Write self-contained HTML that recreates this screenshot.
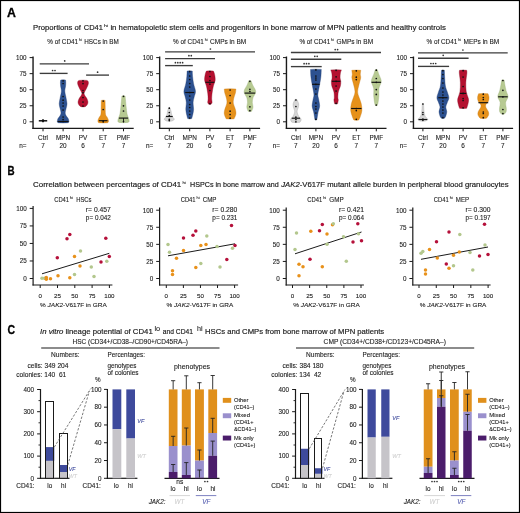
<!DOCTYPE html>
<html><head><meta charset="utf-8"><style>
html,body{margin:0;padding:0;background:#fff;width:520px;height:513px;overflow:hidden}
svg{display:block;will-change:transform}
text{font-family:"Liberation Sans", sans-serif}
</style></head><body>
<svg width="520" height="513" viewBox="0 0 520 513">
<rect x="0.5" y="0.5" width="519" height="512" fill="none" stroke="#000" stroke-width="1.2"/>
<text x="7.10" y="17.00" font-size="12.0" fill="#000" stroke="#000" stroke-width="0.3" font-weight="bold" textLength="8.90" lengthAdjust="spacingAndGlyphs">A</text>
<text x="33.00" y="29.70" font-size="8.0" fill="#1a1a1a" stroke="#1a1a1a" stroke-width="0.18" textLength="48.00" lengthAdjust="spacingAndGlyphs">Proportions of</text>
<text x="83.80" y="29.70" font-size="8.0" fill="#1a1a1a" stroke="#1a1a1a" stroke-width="0.18" textLength="19.10" lengthAdjust="spacingAndGlyphs">CD41</text>
<text x="104.00" y="26.60" font-size="4.4" fill="#1a1a1a" stroke="#1a1a1a" stroke-width="0.1" textLength="4.00" lengthAdjust="spacingAndGlyphs">hi</text>
<text x="110.40" y="29.70" font-size="8.0" fill="#1a1a1a" stroke="#1a1a1a" stroke-width="0.18" textLength="335.40" lengthAdjust="spacingAndGlyphs">in hematopoietic stem cells and progenitors in bone marrow of MPN patients and healthy controls</text>
<line x1="33.05" y1="56.50" x2="33.05" y2="129.00" stroke="#1a1a1a" stroke-width="1.4"/>
<line x1="32.40" y1="128.30" x2="133.70" y2="128.30" stroke="#1a1a1a" stroke-width="1.2"/>
<line x1="29.60" y1="57.60" x2="33.00" y2="57.60" stroke="#1a1a1a" stroke-width="1.0"/>
<text x="26.60" y="59.90" font-size="6.3" fill="#1a1a1a" stroke="#1a1a1a" stroke-width="0.1" text-anchor="end">100</text>
<line x1="29.60" y1="73.65" x2="33.00" y2="73.65" stroke="#1a1a1a" stroke-width="1.0"/>
<text x="26.60" y="75.95" font-size="6.3" fill="#1a1a1a" stroke="#1a1a1a" stroke-width="0.1" text-anchor="end">75</text>
<line x1="29.60" y1="89.70" x2="33.00" y2="89.70" stroke="#1a1a1a" stroke-width="1.0"/>
<text x="26.60" y="92.00" font-size="6.3" fill="#1a1a1a" stroke="#1a1a1a" stroke-width="0.1" text-anchor="end">50</text>
<line x1="29.60" y1="105.75" x2="33.00" y2="105.75" stroke="#1a1a1a" stroke-width="1.0"/>
<text x="26.60" y="108.05" font-size="6.3" fill="#1a1a1a" stroke="#1a1a1a" stroke-width="0.1" text-anchor="end">25</text>
<line x1="29.60" y1="121.80" x2="33.00" y2="121.80" stroke="#1a1a1a" stroke-width="1.0"/>
<text x="26.60" y="124.10" font-size="6.3" fill="#1a1a1a" stroke="#1a1a1a" stroke-width="0.1" text-anchor="end">0</text>
<line x1="43.00" y1="128.30" x2="43.00" y2="131.30" stroke="#1a1a1a" stroke-width="1.0"/>
<text x="43.00" y="140.20" font-size="6.4" fill="#1a1a1a" stroke="#1a1a1a" stroke-width="0.1" text-anchor="middle">Ctrl</text>
<text x="43.00" y="148.00" font-size="6.4" fill="#1a1a1a" stroke="#1a1a1a" stroke-width="0.1" text-anchor="middle">7</text>
<line x1="63.10" y1="128.30" x2="63.10" y2="131.30" stroke="#1a1a1a" stroke-width="1.0"/>
<text x="63.10" y="140.20" font-size="6.4" fill="#1a1a1a" stroke="#1a1a1a" stroke-width="0.1" text-anchor="middle">MPN</text>
<text x="63.10" y="148.00" font-size="6.4" fill="#1a1a1a" stroke="#1a1a1a" stroke-width="0.1" text-anchor="middle">20</text>
<line x1="83.00" y1="128.30" x2="83.00" y2="131.30" stroke="#1a1a1a" stroke-width="1.0"/>
<text x="83.00" y="140.20" font-size="6.4" fill="#1a1a1a" stroke="#1a1a1a" stroke-width="0.1" text-anchor="middle">PV</text>
<text x="83.00" y="148.00" font-size="6.4" fill="#1a1a1a" stroke="#1a1a1a" stroke-width="0.1" text-anchor="middle">6</text>
<line x1="103.20" y1="128.30" x2="103.20" y2="131.30" stroke="#1a1a1a" stroke-width="1.0"/>
<text x="103.20" y="140.20" font-size="6.4" fill="#1a1a1a" stroke="#1a1a1a" stroke-width="0.1" text-anchor="middle">ET</text>
<text x="103.20" y="148.00" font-size="6.4" fill="#1a1a1a" stroke="#1a1a1a" stroke-width="0.1" text-anchor="middle">7</text>
<line x1="123.50" y1="128.30" x2="123.50" y2="131.30" stroke="#1a1a1a" stroke-width="1.0"/>
<text x="123.50" y="140.20" font-size="6.4" fill="#1a1a1a" stroke="#1a1a1a" stroke-width="0.1" text-anchor="middle">PMF</text>
<text x="123.50" y="148.00" font-size="6.4" fill="#1a1a1a" stroke="#1a1a1a" stroke-width="0.1" text-anchor="middle">7</text>
<text x="19.30" y="148.00" font-size="6.4" fill="#1a1a1a" stroke="#1a1a1a" stroke-width="0.1">n=</text>
<text x="47.30" y="43.80" font-size="6.6" fill="#1a1a1a" stroke="#1a1a1a" stroke-width="0.1" textLength="30.80" lengthAdjust="spacingAndGlyphs">% of CD41</text>
<text x="79.00" y="41.20" font-size="3.6" fill="#1a1a1a" stroke="#1a1a1a" stroke-width="0.1">hi</text>
<text x="84.30" y="43.80" font-size="6.6" fill="#1a1a1a" stroke="#1a1a1a" stroke-width="0.1" textLength="34.50" lengthAdjust="spacingAndGlyphs">HSCs in BM</text>
<line x1="159.65" y1="56.50" x2="159.65" y2="129.00" stroke="#1a1a1a" stroke-width="1.4"/>
<line x1="159.00" y1="128.30" x2="260.10" y2="128.30" stroke="#1a1a1a" stroke-width="1.2"/>
<line x1="156.20" y1="57.60" x2="159.60" y2="57.60" stroke="#1a1a1a" stroke-width="1.0"/>
<text x="153.20" y="59.90" font-size="6.3" fill="#1a1a1a" stroke="#1a1a1a" stroke-width="0.1" text-anchor="end">100</text>
<line x1="156.20" y1="73.65" x2="159.60" y2="73.65" stroke="#1a1a1a" stroke-width="1.0"/>
<text x="153.20" y="75.95" font-size="6.3" fill="#1a1a1a" stroke="#1a1a1a" stroke-width="0.1" text-anchor="end">75</text>
<line x1="156.20" y1="89.70" x2="159.60" y2="89.70" stroke="#1a1a1a" stroke-width="1.0"/>
<text x="153.20" y="92.00" font-size="6.3" fill="#1a1a1a" stroke="#1a1a1a" stroke-width="0.1" text-anchor="end">50</text>
<line x1="156.20" y1="105.75" x2="159.60" y2="105.75" stroke="#1a1a1a" stroke-width="1.0"/>
<text x="153.20" y="108.05" font-size="6.3" fill="#1a1a1a" stroke="#1a1a1a" stroke-width="0.1" text-anchor="end">25</text>
<line x1="156.20" y1="121.80" x2="159.60" y2="121.80" stroke="#1a1a1a" stroke-width="1.0"/>
<text x="153.20" y="124.10" font-size="6.3" fill="#1a1a1a" stroke="#1a1a1a" stroke-width="0.1" text-anchor="end">0</text>
<line x1="169.30" y1="128.30" x2="169.30" y2="131.30" stroke="#1a1a1a" stroke-width="1.0"/>
<text x="169.30" y="140.20" font-size="6.4" fill="#1a1a1a" stroke="#1a1a1a" stroke-width="0.1" text-anchor="middle">Ctrl</text>
<text x="169.30" y="148.00" font-size="6.4" fill="#1a1a1a" stroke="#1a1a1a" stroke-width="0.1" text-anchor="middle">7</text>
<line x1="189.70" y1="128.30" x2="189.70" y2="131.30" stroke="#1a1a1a" stroke-width="1.0"/>
<text x="189.70" y="140.20" font-size="6.4" fill="#1a1a1a" stroke="#1a1a1a" stroke-width="0.1" text-anchor="middle">MPN</text>
<text x="189.70" y="148.00" font-size="6.4" fill="#1a1a1a" stroke="#1a1a1a" stroke-width="0.1" text-anchor="middle">20</text>
<line x1="209.90" y1="128.30" x2="209.90" y2="131.30" stroke="#1a1a1a" stroke-width="1.0"/>
<text x="209.90" y="140.20" font-size="6.4" fill="#1a1a1a" stroke="#1a1a1a" stroke-width="0.1" text-anchor="middle">PV</text>
<text x="209.90" y="148.00" font-size="6.4" fill="#1a1a1a" stroke="#1a1a1a" stroke-width="0.1" text-anchor="middle">6</text>
<line x1="230.10" y1="128.30" x2="230.10" y2="131.30" stroke="#1a1a1a" stroke-width="1.0"/>
<text x="230.10" y="140.20" font-size="6.4" fill="#1a1a1a" stroke="#1a1a1a" stroke-width="0.1" text-anchor="middle">ET</text>
<text x="230.10" y="148.00" font-size="6.4" fill="#1a1a1a" stroke="#1a1a1a" stroke-width="0.1" text-anchor="middle">7</text>
<line x1="249.90" y1="128.30" x2="249.90" y2="131.30" stroke="#1a1a1a" stroke-width="1.0"/>
<text x="249.90" y="140.20" font-size="6.4" fill="#1a1a1a" stroke="#1a1a1a" stroke-width="0.1" text-anchor="middle">PMF</text>
<text x="249.90" y="148.00" font-size="6.4" fill="#1a1a1a" stroke="#1a1a1a" stroke-width="0.1" text-anchor="middle">7</text>
<text x="145.90" y="148.00" font-size="6.4" fill="#1a1a1a" stroke="#1a1a1a" stroke-width="0.1">n=</text>
<text x="173.10" y="43.80" font-size="6.6" fill="#1a1a1a" stroke="#1a1a1a" stroke-width="0.1" textLength="30.80" lengthAdjust="spacingAndGlyphs">% of CD41</text>
<text x="204.80" y="41.20" font-size="3.6" fill="#1a1a1a" stroke="#1a1a1a" stroke-width="0.1">hi</text>
<text x="210.10" y="43.80" font-size="6.6" fill="#1a1a1a" stroke="#1a1a1a" stroke-width="0.1" textLength="36.10" lengthAdjust="spacingAndGlyphs">CMPs in BM</text>
<line x1="286.45" y1="56.50" x2="286.45" y2="129.00" stroke="#1a1a1a" stroke-width="1.4"/>
<line x1="285.80" y1="128.30" x2="386.50" y2="128.30" stroke="#1a1a1a" stroke-width="1.2"/>
<line x1="283.00" y1="57.60" x2="286.40" y2="57.60" stroke="#1a1a1a" stroke-width="1.0"/>
<text x="280.00" y="59.90" font-size="6.3" fill="#1a1a1a" stroke="#1a1a1a" stroke-width="0.1" text-anchor="end">100</text>
<line x1="283.00" y1="73.65" x2="286.40" y2="73.65" stroke="#1a1a1a" stroke-width="1.0"/>
<text x="280.00" y="75.95" font-size="6.3" fill="#1a1a1a" stroke="#1a1a1a" stroke-width="0.1" text-anchor="end">75</text>
<line x1="283.00" y1="89.70" x2="286.40" y2="89.70" stroke="#1a1a1a" stroke-width="1.0"/>
<text x="280.00" y="92.00" font-size="6.3" fill="#1a1a1a" stroke="#1a1a1a" stroke-width="0.1" text-anchor="end">50</text>
<line x1="283.00" y1="105.75" x2="286.40" y2="105.75" stroke="#1a1a1a" stroke-width="1.0"/>
<text x="280.00" y="108.05" font-size="6.3" fill="#1a1a1a" stroke="#1a1a1a" stroke-width="0.1" text-anchor="end">25</text>
<line x1="283.00" y1="121.80" x2="286.40" y2="121.80" stroke="#1a1a1a" stroke-width="1.0"/>
<text x="280.00" y="124.10" font-size="6.3" fill="#1a1a1a" stroke="#1a1a1a" stroke-width="0.1" text-anchor="end">0</text>
<line x1="295.90" y1="128.30" x2="295.90" y2="131.30" stroke="#1a1a1a" stroke-width="1.0"/>
<text x="295.90" y="140.20" font-size="6.4" fill="#1a1a1a" stroke="#1a1a1a" stroke-width="0.1" text-anchor="middle">Ctrl</text>
<text x="295.90" y="148.00" font-size="6.4" fill="#1a1a1a" stroke="#1a1a1a" stroke-width="0.1" text-anchor="middle">7</text>
<line x1="315.90" y1="128.30" x2="315.90" y2="131.30" stroke="#1a1a1a" stroke-width="1.0"/>
<text x="315.90" y="140.20" font-size="6.4" fill="#1a1a1a" stroke="#1a1a1a" stroke-width="0.1" text-anchor="middle">MPN</text>
<text x="315.90" y="148.00" font-size="6.4" fill="#1a1a1a" stroke="#1a1a1a" stroke-width="0.1" text-anchor="middle">20</text>
<line x1="336.10" y1="128.30" x2="336.10" y2="131.30" stroke="#1a1a1a" stroke-width="1.0"/>
<text x="336.10" y="140.20" font-size="6.4" fill="#1a1a1a" stroke="#1a1a1a" stroke-width="0.1" text-anchor="middle">PV</text>
<text x="336.10" y="148.00" font-size="6.4" fill="#1a1a1a" stroke="#1a1a1a" stroke-width="0.1" text-anchor="middle">6</text>
<line x1="356.30" y1="128.30" x2="356.30" y2="131.30" stroke="#1a1a1a" stroke-width="1.0"/>
<text x="356.30" y="140.20" font-size="6.4" fill="#1a1a1a" stroke="#1a1a1a" stroke-width="0.1" text-anchor="middle">ET</text>
<text x="356.30" y="148.00" font-size="6.4" fill="#1a1a1a" stroke="#1a1a1a" stroke-width="0.1" text-anchor="middle">7</text>
<line x1="376.30" y1="128.30" x2="376.30" y2="131.30" stroke="#1a1a1a" stroke-width="1.0"/>
<text x="376.30" y="140.20" font-size="6.4" fill="#1a1a1a" stroke="#1a1a1a" stroke-width="0.1" text-anchor="middle">PMF</text>
<text x="376.30" y="148.00" font-size="6.4" fill="#1a1a1a" stroke="#1a1a1a" stroke-width="0.1" text-anchor="middle">7</text>
<text x="272.70" y="148.00" font-size="6.4" fill="#1a1a1a" stroke="#1a1a1a" stroke-width="0.1">n=</text>
<text x="299.40" y="43.80" font-size="6.6" fill="#1a1a1a" stroke="#1a1a1a" stroke-width="0.1" textLength="30.80" lengthAdjust="spacingAndGlyphs">% of CD41</text>
<text x="331.10" y="41.20" font-size="3.6" fill="#1a1a1a" stroke="#1a1a1a" stroke-width="0.1">hi</text>
<text x="336.40" y="43.80" font-size="6.6" fill="#1a1a1a" stroke="#1a1a1a" stroke-width="0.1" textLength="36.70" lengthAdjust="spacingAndGlyphs">GMPs in BM</text>
<line x1="413.45" y1="56.50" x2="413.45" y2="129.00" stroke="#1a1a1a" stroke-width="1.4"/>
<line x1="412.80" y1="128.30" x2="513.10" y2="128.30" stroke="#1a1a1a" stroke-width="1.2"/>
<line x1="410.00" y1="57.60" x2="413.40" y2="57.60" stroke="#1a1a1a" stroke-width="1.0"/>
<text x="407.00" y="59.90" font-size="6.3" fill="#1a1a1a" stroke="#1a1a1a" stroke-width="0.1" text-anchor="end">100</text>
<line x1="410.00" y1="73.65" x2="413.40" y2="73.65" stroke="#1a1a1a" stroke-width="1.0"/>
<text x="407.00" y="75.95" font-size="6.3" fill="#1a1a1a" stroke="#1a1a1a" stroke-width="0.1" text-anchor="end">75</text>
<line x1="410.00" y1="89.70" x2="413.40" y2="89.70" stroke="#1a1a1a" stroke-width="1.0"/>
<text x="407.00" y="92.00" font-size="6.3" fill="#1a1a1a" stroke="#1a1a1a" stroke-width="0.1" text-anchor="end">50</text>
<line x1="410.00" y1="105.75" x2="413.40" y2="105.75" stroke="#1a1a1a" stroke-width="1.0"/>
<text x="407.00" y="108.05" font-size="6.3" fill="#1a1a1a" stroke="#1a1a1a" stroke-width="0.1" text-anchor="end">25</text>
<line x1="410.00" y1="121.80" x2="413.40" y2="121.80" stroke="#1a1a1a" stroke-width="1.0"/>
<text x="407.00" y="124.10" font-size="6.3" fill="#1a1a1a" stroke="#1a1a1a" stroke-width="0.1" text-anchor="end">0</text>
<line x1="422.90" y1="128.30" x2="422.90" y2="131.30" stroke="#1a1a1a" stroke-width="1.0"/>
<text x="422.90" y="140.20" font-size="6.4" fill="#1a1a1a" stroke="#1a1a1a" stroke-width="0.1" text-anchor="middle">Ctrl</text>
<text x="422.90" y="148.00" font-size="6.4" fill="#1a1a1a" stroke="#1a1a1a" stroke-width="0.1" text-anchor="middle">7</text>
<line x1="442.90" y1="128.30" x2="442.90" y2="131.30" stroke="#1a1a1a" stroke-width="1.0"/>
<text x="442.90" y="140.20" font-size="6.4" fill="#1a1a1a" stroke="#1a1a1a" stroke-width="0.1" text-anchor="middle">MPN</text>
<text x="442.90" y="148.00" font-size="6.4" fill="#1a1a1a" stroke="#1a1a1a" stroke-width="0.1" text-anchor="middle">20</text>
<line x1="463.10" y1="128.30" x2="463.10" y2="131.30" stroke="#1a1a1a" stroke-width="1.0"/>
<text x="463.10" y="140.20" font-size="6.4" fill="#1a1a1a" stroke="#1a1a1a" stroke-width="0.1" text-anchor="middle">PV</text>
<text x="463.10" y="148.00" font-size="6.4" fill="#1a1a1a" stroke="#1a1a1a" stroke-width="0.1" text-anchor="middle">6</text>
<line x1="483.30" y1="128.30" x2="483.30" y2="131.30" stroke="#1a1a1a" stroke-width="1.0"/>
<text x="483.30" y="140.20" font-size="6.4" fill="#1a1a1a" stroke="#1a1a1a" stroke-width="0.1" text-anchor="middle">ET</text>
<text x="483.30" y="148.00" font-size="6.4" fill="#1a1a1a" stroke="#1a1a1a" stroke-width="0.1" text-anchor="middle">7</text>
<line x1="502.90" y1="128.30" x2="502.90" y2="131.30" stroke="#1a1a1a" stroke-width="1.0"/>
<text x="502.90" y="140.20" font-size="6.4" fill="#1a1a1a" stroke="#1a1a1a" stroke-width="0.1" text-anchor="middle">PMF</text>
<text x="502.90" y="148.00" font-size="6.4" fill="#1a1a1a" stroke="#1a1a1a" stroke-width="0.1" text-anchor="middle">7</text>
<text x="399.70" y="148.00" font-size="6.4" fill="#1a1a1a" stroke="#1a1a1a" stroke-width="0.1">n=</text>
<text x="426.50" y="43.80" font-size="6.6" fill="#1a1a1a" stroke="#1a1a1a" stroke-width="0.1" textLength="30.80" lengthAdjust="spacingAndGlyphs">% of CD41</text>
<text x="458.20" y="41.20" font-size="3.6" fill="#1a1a1a" stroke="#1a1a1a" stroke-width="0.1">hi</text>
<text x="463.50" y="43.80" font-size="6.6" fill="#1a1a1a" stroke="#1a1a1a" stroke-width="0.1" textLength="35.80" lengthAdjust="spacingAndGlyphs">MEPs in BM</text>
<line x1="39.70" y1="63.80" x2="89.00" y2="63.80" stroke="#3c3c3c" stroke-width="1.35"/>
<circle cx="64.70" cy="60.90" r="0.85" fill="#333"/>
<line x1="39.70" y1="73.40" x2="67.60" y2="73.40" stroke="#3c3c3c" stroke-width="1.35"/>
<circle cx="52.60" cy="70.50" r="0.85" fill="#333"/>
<circle cx="55.00" cy="70.50" r="0.85" fill="#333"/>
<line x1="86.10" y1="75.10" x2="109.00" y2="75.10" stroke="#3c3c3c" stroke-width="1.35"/>
<circle cx="97.60" cy="72.20" r="0.85" fill="#333"/>
<line x1="165.10" y1="51.90" x2="255.00" y2="51.90" stroke="#3c3c3c" stroke-width="1.35"/>
<circle cx="210.40" cy="49.00" r="0.85" fill="#333"/>
<line x1="165.10" y1="58.60" x2="215.00" y2="58.60" stroke="#3c3c3c" stroke-width="1.35"/>
<circle cx="188.90" cy="55.70" r="0.85" fill="#333"/>
<circle cx="191.30" cy="55.70" r="0.85" fill="#333"/>
<line x1="165.10" y1="65.60" x2="192.80" y2="65.60" stroke="#3c3c3c" stroke-width="1.35"/>
<circle cx="175.40" cy="62.70" r="0.85" fill="#333"/>
<circle cx="177.80" cy="62.70" r="0.85" fill="#333"/>
<circle cx="180.20" cy="62.70" r="0.85" fill="#333"/>
<circle cx="182.60" cy="62.70" r="0.85" fill="#333"/>
<line x1="290.90" y1="52.50" x2="381.00" y2="52.50" stroke="#3c3c3c" stroke-width="1.35"/>
<circle cx="335.20" cy="49.60" r="0.85" fill="#333"/>
<circle cx="337.60" cy="49.60" r="0.85" fill="#333"/>
<line x1="290.90" y1="59.20" x2="341.30" y2="59.20" stroke="#3c3c3c" stroke-width="1.35"/>
<circle cx="314.80" cy="56.30" r="0.85" fill="#333"/>
<circle cx="317.20" cy="56.30" r="0.85" fill="#333"/>
<line x1="290.90" y1="66.60" x2="321.70" y2="66.60" stroke="#3c3c3c" stroke-width="1.35"/>
<circle cx="304.10" cy="63.70" r="0.85" fill="#333"/>
<circle cx="306.50" cy="63.70" r="0.85" fill="#333"/>
<circle cx="308.90" cy="63.70" r="0.85" fill="#333"/>
<line x1="418.00" y1="52.90" x2="507.70" y2="52.90" stroke="#3c3c3c" stroke-width="1.35"/>
<circle cx="462.90" cy="50.00" r="0.85" fill="#333"/>
<line x1="418.00" y1="58.20" x2="468.60" y2="58.20" stroke="#3c3c3c" stroke-width="1.35"/>
<circle cx="443.20" cy="55.30" r="0.85" fill="#333"/>
<line x1="418.00" y1="66.40" x2="449.10" y2="66.40" stroke="#3c3c3c" stroke-width="1.35"/>
<circle cx="430.90" cy="63.50" r="0.85" fill="#333"/>
<circle cx="433.30" cy="63.50" r="0.85" fill="#333"/>
<circle cx="435.70" cy="63.50" r="0.85" fill="#333"/>
<line x1="38.80" y1="120.80" x2="47.20" y2="120.80" stroke="#111" stroke-width="1.5"/>
<ellipse cx="43.00" cy="120.7" rx="1.1" ry="1.8" fill="#111"/>
<path d="M65.50,80.00 C65.54,80.33 65.73,81.00 65.75,82.00 C65.77,83.00 65.76,84.50 65.60,86.00 C65.44,87.50 64.75,89.17 64.80,91.00 C64.85,92.83 65.53,94.88 65.90,97.00 C66.27,99.12 66.97,101.78 67.00,103.70 C67.03,105.62 66.40,106.95 66.10,108.50 C65.80,110.05 65.17,111.75 65.20,113.00 C65.23,114.25 65.78,115.05 66.30,116.00 C66.82,116.95 67.87,117.78 68.30,118.70 C68.73,119.62 68.90,120.83 68.90,121.50 C68.90,122.17 68.40,122.50 68.30,122.70 Q63.10,123.20 57.90,122.70 C57.80,122.50 57.30,122.17 57.30,121.50 C57.30,120.83 57.47,119.62 57.90,118.70 C58.33,117.78 59.38,116.95 59.90,116.00 C60.42,115.05 60.97,114.25 61.00,113.00 C61.03,111.75 60.40,110.05 60.10,108.50 C59.80,106.95 59.17,105.62 59.20,103.70 C59.23,101.78 59.93,99.12 60.30,97.00 C60.67,94.88 61.35,92.83 61.40,91.00 C61.45,89.17 60.76,87.50 60.60,86.00 C60.44,84.50 60.43,83.00 60.45,82.00 C60.47,81.00 60.66,80.33 60.70,80.00 Q63.10,79.50 65.50,80.00Z" fill="#2c5190" stroke="#1d3a70" stroke-width="0.5" stroke-opacity="0.7"/>
<circle cx="63.10" cy="80.80" r="0.85" fill="#111"/>
<circle cx="63.10" cy="83.50" r="0.85" fill="#111"/>
<circle cx="63.10" cy="96.50" r="0.85" fill="#111"/>
<circle cx="63.10" cy="100.20" r="0.85" fill="#111"/>
<circle cx="63.10" cy="103.00" r="0.85" fill="#111"/>
<circle cx="63.10" cy="106.00" r="0.85" fill="#111"/>
<circle cx="63.10" cy="110.00" r="0.85" fill="#111"/>
<circle cx="63.10" cy="117.00" r="0.85" fill="#111"/>
<circle cx="63.10" cy="119.50" r="0.85" fill="#111"/>
<circle cx="63.10" cy="121.50" r="0.85" fill="#111"/>
<line x1="57.60" y1="121.50" x2="68.60" y2="121.50" stroke="#111" stroke-width="1.15"/>
<path d="M87.20,80.40 C87.37,80.58 88.00,80.98 88.20,81.50 C88.40,82.02 88.50,82.75 88.40,83.50 C88.30,84.25 87.97,85.08 87.60,86.00 C87.23,86.92 86.67,88.08 86.20,89.00 C85.73,89.92 85.17,90.78 84.80,91.50 C84.43,92.22 84.00,92.63 84.00,93.30 C84.00,93.97 84.37,94.72 84.80,95.50 C85.23,96.28 86.08,97.00 86.60,98.00 C87.12,99.00 87.73,100.50 87.90,101.50 C88.07,102.50 87.88,103.25 87.60,104.00 C87.32,104.75 86.63,105.55 86.20,106.00 C85.77,106.45 85.20,106.58 85.00,106.70 Q83.00,107.20 81.00,106.70 C80.80,106.58 80.23,106.45 79.80,106.00 C79.37,105.55 78.68,104.75 78.40,104.00 C78.12,103.25 77.93,102.50 78.10,101.50 C78.27,100.50 78.88,99.00 79.40,98.00 C79.92,97.00 80.77,96.28 81.20,95.50 C81.63,94.72 82.00,93.97 82.00,93.30 C82.00,92.63 81.57,92.22 81.20,91.50 C80.83,90.78 80.27,89.92 79.80,89.00 C79.33,88.08 78.77,86.92 78.40,86.00 C78.03,85.08 77.70,84.25 77.60,83.50 C77.50,82.75 77.60,82.02 77.80,81.50 C78.00,80.98 78.63,80.58 78.80,80.40 Q83.00,79.90 87.20,80.40Z" fill="#b4102f" stroke="#850a22" stroke-width="0.5" stroke-opacity="0.7"/>
<circle cx="83.00" cy="80.80" r="0.85" fill="#111"/>
<circle cx="83.00" cy="83.60" r="0.85" fill="#111"/>
<circle cx="83.00" cy="90.50" r="0.85" fill="#111"/>
<circle cx="83.00" cy="97.50" r="0.85" fill="#111"/>
<circle cx="83.00" cy="102.00" r="0.85" fill="#111"/>
<circle cx="83.00" cy="106.00" r="0.85" fill="#111"/>
<line x1="81.80" y1="92.80" x2="84.20" y2="92.80" stroke="#111" stroke-width="1.15"/>
<path d="M105.10,100.40 C105.12,101.33 105.13,103.70 105.20,106.00 C105.27,108.30 105.20,112.37 105.50,114.20 C105.80,116.03 106.55,116.12 107.00,117.00 C107.45,117.88 107.95,118.75 108.20,119.50 C108.45,120.25 108.57,120.97 108.50,121.50 C108.43,122.03 107.92,122.50 107.80,122.70 Q103.20,123.20 98.60,122.70 C98.48,122.50 97.97,122.03 97.90,121.50 C97.83,120.97 97.95,120.25 98.20,119.50 C98.45,118.75 98.95,117.88 99.40,117.00 C99.85,116.12 100.60,116.03 100.90,114.20 C101.20,112.37 101.13,108.30 101.20,106.00 C101.27,103.70 101.28,101.33 101.30,100.40 Q103.20,99.90 105.10,100.40Z" fill="#e6911a" stroke="#c47510" stroke-width="0.5" stroke-opacity="0.7"/>
<circle cx="103.20" cy="101.10" r="0.85" fill="#111"/>
<circle cx="103.20" cy="109.50" r="0.85" fill="#111"/>
<circle cx="103.20" cy="120.80" r="0.85" fill="#111"/>
<circle cx="103.20" cy="121.80" r="0.85" fill="#111"/>
<line x1="98.90" y1="120.70" x2="107.50" y2="120.70" stroke="#111" stroke-width="1.15"/>
<path d="M125.10,96.00 C125.17,96.67 125.32,98.12 125.50,100.00 C125.68,101.88 125.97,105.13 126.20,107.30 C126.43,109.47 126.65,111.55 126.90,113.00 C127.15,114.45 127.37,114.93 127.70,116.00 C128.03,117.07 128.67,118.48 128.90,119.40 C129.13,120.32 129.23,121.00 129.10,121.50 C128.97,122.00 128.27,122.25 128.10,122.40 Q123.50,122.90 118.90,122.40 C118.73,122.25 118.03,122.00 117.90,121.50 C117.77,121.00 117.87,120.32 118.10,119.40 C118.33,118.48 118.97,117.07 119.30,116.00 C119.63,114.93 119.85,114.45 120.10,113.00 C120.35,111.55 120.57,109.47 120.80,107.30 C121.03,105.13 121.32,101.88 121.50,100.00 C121.68,98.12 121.83,96.67 121.90,96.00 Q123.50,95.50 125.10,96.00Z" fill="#b7ca92" stroke="#96ab70" stroke-width="0.5" stroke-opacity="0.7"/>
<circle cx="123.50" cy="96.30" r="0.85" fill="#111"/>
<circle cx="123.50" cy="105.80" r="0.85" fill="#111"/>
<circle cx="123.50" cy="111.00" r="0.85" fill="#111"/>
<circle cx="123.50" cy="121.50" r="0.85" fill="#111"/>
<line x1="118.90" y1="118.10" x2="128.10" y2="118.10" stroke="#111" stroke-width="1.15"/>
<line x1="123.50" y1="118.10" x2="123.50" y2="122.50" stroke="#111" stroke-width="0.9"/>
<path d="M169.90,107.70 C170.10,108.28 170.83,110.13 171.10,111.20 C171.37,112.27 171.22,113.13 171.50,114.10 C171.78,115.07 172.33,116.12 172.80,117.00 C173.27,117.88 174.47,118.72 174.30,119.40 C174.13,120.08 172.22,120.82 171.80,121.10 Q169.30,121.60 166.80,121.10 C166.38,120.82 164.47,120.08 164.30,119.40 C164.13,118.72 165.33,117.88 165.80,117.00 C166.27,116.12 166.82,115.07 167.10,114.10 C167.38,113.13 167.23,112.27 167.50,111.20 C167.77,110.13 168.50,108.28 168.70,107.70 Q169.30,107.20 169.90,107.70Z" fill="#d6d6d6" stroke="#888" stroke-width="0.4" stroke-opacity="0.7"/>
<circle cx="169.30" cy="108.20" r="0.85" fill="#111"/>
<circle cx="169.30" cy="112.50" r="0.85" fill="#111"/>
<circle cx="169.30" cy="115.50" r="0.85" fill="#111"/>
<circle cx="169.30" cy="119.40" r="0.85" fill="#111"/>
<circle cx="169.30" cy="120.60" r="0.85" fill="#111"/>
<line x1="165.90" y1="116.50" x2="172.70" y2="116.50" stroke="#111" stroke-width="1.15"/>
<path d="M192.30,71.10 C192.35,72.03 192.38,74.60 192.60,76.70 C192.82,78.80 193.12,81.27 193.60,83.70 C194.08,86.13 195.38,89.15 195.50,91.30 C195.62,93.45 194.70,94.75 194.30,96.60 C193.90,98.45 193.22,100.27 193.10,102.40 C192.98,104.53 193.68,107.25 193.60,109.40 C193.52,111.55 192.92,113.77 192.60,115.30 C192.28,116.83 191.85,118.05 191.70,118.60 Q189.70,119.10 187.70,118.60 C187.55,118.05 187.12,116.83 186.80,115.30 C186.48,113.77 185.88,111.55 185.80,109.40 C185.72,107.25 186.42,104.53 186.30,102.40 C186.18,100.27 185.50,98.45 185.10,96.60 C184.70,94.75 183.78,93.45 183.90,91.30 C184.02,89.15 185.32,86.13 185.80,83.70 C186.28,81.27 186.58,78.80 186.80,76.70 C187.02,74.60 187.05,72.03 187.10,71.10 Q189.70,70.60 192.30,71.10Z" fill="#2c5190" stroke="#1d3a70" stroke-width="0.5" stroke-opacity="0.7"/>
<circle cx="189.70" cy="71.60" r="0.85" fill="#111"/>
<circle cx="189.70" cy="76.00" r="0.85" fill="#111"/>
<circle cx="189.70" cy="79.50" r="0.85" fill="#111"/>
<circle cx="189.70" cy="83.50" r="0.85" fill="#111"/>
<circle cx="189.70" cy="87.00" r="0.85" fill="#111"/>
<circle cx="189.70" cy="92.50" r="0.85" fill="#111"/>
<circle cx="189.70" cy="96.00" r="0.85" fill="#111"/>
<circle cx="189.70" cy="100.00" r="0.85" fill="#111"/>
<circle cx="189.70" cy="104.50" r="0.85" fill="#111"/>
<circle cx="189.70" cy="107.50" r="0.85" fill="#111"/>
<circle cx="189.70" cy="111.00" r="0.85" fill="#111"/>
<circle cx="189.70" cy="114.50" r="0.85" fill="#111"/>
<circle cx="189.70" cy="118.00" r="0.85" fill="#111"/>
<line x1="185.20" y1="92.50" x2="194.20" y2="92.50" stroke="#111" stroke-width="1.15"/>
<path d="M213.40,71.10 C213.60,71.65 214.30,72.88 214.60,74.40 C214.90,75.92 215.40,78.27 215.20,80.20 C215.00,82.13 213.92,83.85 213.40,86.00 C212.88,88.15 212.38,90.95 212.10,93.10 C211.82,95.25 211.70,97.35 211.70,98.90 C211.70,100.45 212.20,101.52 212.10,102.40 C212.00,103.28 211.27,103.90 211.10,104.20 Q209.90,104.70 208.70,104.20 C208.53,103.90 207.80,103.28 207.70,102.40 C207.60,101.52 208.10,100.45 208.10,98.90 C208.10,97.35 207.98,95.25 207.70,93.10 C207.42,90.95 206.92,88.15 206.40,86.00 C205.88,83.85 204.80,82.13 204.60,80.20 C204.40,78.27 204.90,75.92 205.20,74.40 C205.50,72.88 206.20,71.65 206.40,71.10 Q209.90,70.60 213.40,71.10Z" fill="#b4102f" stroke="#850a22" stroke-width="0.5" stroke-opacity="0.7"/>
<circle cx="209.90" cy="71.50" r="0.85" fill="#111"/>
<circle cx="209.90" cy="76.50" r="0.85" fill="#111"/>
<circle cx="209.90" cy="80.50" r="0.85" fill="#111"/>
<circle cx="209.90" cy="84.20" r="0.85" fill="#111"/>
<circle cx="209.90" cy="90.50" r="0.85" fill="#111"/>
<circle cx="209.90" cy="103.50" r="0.85" fill="#111"/>
<line x1="205.40" y1="82.30" x2="214.40" y2="82.30" stroke="#111" stroke-width="1.15"/>
<path d="M235.90,89.00 C235.82,89.68 235.78,91.45 235.40,93.10 C235.02,94.75 233.93,97.15 233.60,98.90 C233.27,100.65 233.10,101.85 233.40,103.60 C233.70,105.35 234.98,107.65 235.40,109.40 C235.82,111.15 236.12,112.53 235.90,114.10 C235.68,115.67 234.40,118.02 234.10,118.80 Q230.10,119.30 226.10,118.80 C225.80,118.02 224.52,115.67 224.30,114.10 C224.08,112.53 224.38,111.15 224.80,109.40 C225.22,107.65 226.50,105.35 226.80,103.60 C227.10,101.85 226.93,100.65 226.60,98.90 C226.27,97.15 225.18,94.75 224.80,93.10 C224.42,91.45 224.38,89.68 224.30,89.00 Q230.10,88.50 235.90,89.00Z" fill="#e6911a" stroke="#c47510" stroke-width="0.5" stroke-opacity="0.7"/>
<circle cx="230.10" cy="90.00" r="0.85" fill="#111"/>
<circle cx="230.10" cy="95.50" r="0.85" fill="#111"/>
<circle cx="230.10" cy="103.00" r="0.85" fill="#111"/>
<circle cx="230.10" cy="111.20" r="0.85" fill="#111"/>
<circle cx="230.10" cy="114.50" r="0.85" fill="#111"/>
<circle cx="230.10" cy="118.20" r="0.85" fill="#111"/>
<path d="M251.10,80.80 C251.35,81.48 251.92,83.43 252.60,84.90 C253.28,86.37 254.72,88.23 255.20,89.60 C255.68,90.97 255.87,91.75 255.50,93.10 C255.13,94.45 253.53,96.15 253.00,97.70 C252.47,99.25 252.30,100.83 252.30,102.40 C252.30,103.97 253.10,105.63 253.00,107.10 C252.90,108.57 251.92,110.52 251.70,111.20 Q249.90,111.70 248.10,111.20 C247.88,110.52 246.90,108.57 246.80,107.10 C246.70,105.63 247.50,103.97 247.50,102.40 C247.50,100.83 247.33,99.25 246.80,97.70 C246.27,96.15 244.67,94.45 244.30,93.10 C243.93,91.75 244.12,90.97 244.60,89.60 C245.08,88.23 246.52,86.37 247.20,84.90 C247.88,83.43 248.45,81.48 248.70,80.80 Q249.90,80.30 251.10,80.80Z" fill="#b7ca92" stroke="#96ab70" stroke-width="0.5" stroke-opacity="0.7"/>
<circle cx="249.90" cy="81.30" r="0.85" fill="#111"/>
<circle cx="249.90" cy="89.30" r="0.85" fill="#111"/>
<circle cx="249.90" cy="91.50" r="0.85" fill="#111"/>
<circle cx="249.90" cy="96.50" r="0.85" fill="#111"/>
<circle cx="249.90" cy="106.80" r="0.85" fill="#111"/>
<circle cx="249.90" cy="110.70" r="0.85" fill="#111"/>
<line x1="244.60" y1="93.10" x2="255.20" y2="93.10" stroke="#111" stroke-width="1.15"/>
<path d="M296.90,99.50 C297.18,100.18 298.35,102.33 298.60,103.60 C298.85,104.87 298.65,105.73 298.40,107.10 C298.15,108.47 297.02,110.23 297.10,111.80 C297.18,113.37 298.22,115.23 298.90,116.50 C299.58,117.77 301.03,118.43 301.20,119.40 C301.37,120.37 300.12,121.82 299.90,122.30 Q295.90,122.80 291.90,122.30 C291.68,121.82 290.43,120.37 290.60,119.40 C290.77,118.43 292.22,117.77 292.90,116.50 C293.58,115.23 294.62,113.37 294.70,111.80 C294.78,110.23 293.65,108.47 293.40,107.10 C293.15,105.73 292.95,104.87 293.20,103.60 C293.45,102.33 294.62,100.18 294.90,99.50 Q295.90,99.00 296.90,99.50Z" fill="#d6d6d6" stroke="#888" stroke-width="0.4" stroke-opacity="0.7"/>
<circle cx="295.90" cy="100.00" r="0.85" fill="#111"/>
<circle cx="295.90" cy="106.50" r="0.85" fill="#111"/>
<circle cx="295.90" cy="117.20" r="0.85" fill="#111"/>
<circle cx="295.90" cy="119.50" r="0.85" fill="#111"/>
<circle cx="295.90" cy="121.80" r="0.85" fill="#111"/>
<line x1="291.70" y1="118.20" x2="300.10" y2="118.20" stroke="#111" stroke-width="1.15"/>
<path d="M321.30,69.40 C321.23,70.62 321.17,74.22 320.90,76.70 C320.63,79.18 320.20,81.38 319.70,84.30 C319.20,87.22 318.08,91.77 317.90,94.20 C317.72,96.63 318.30,96.95 318.60,98.90 C318.90,100.85 319.77,103.75 319.70,105.90 C319.63,108.05 318.58,110.03 318.20,111.80 C317.82,113.57 317.62,115.18 317.40,116.50 C317.18,117.82 316.98,119.17 316.90,119.70 Q315.90,120.20 314.90,119.70 C314.82,119.17 314.62,117.82 314.40,116.50 C314.18,115.18 313.98,113.57 313.60,111.80 C313.22,110.03 312.17,108.05 312.10,105.90 C312.03,103.75 312.90,100.85 313.20,98.90 C313.50,96.95 314.08,96.63 313.90,94.20 C313.72,91.77 312.60,87.22 312.10,84.30 C311.60,81.38 311.17,79.18 310.90,76.70 C310.63,74.22 310.57,70.62 310.50,69.40 Q315.90,68.90 321.30,69.40Z" fill="#2c5190" stroke="#1d3a70" stroke-width="0.5" stroke-opacity="0.7"/>
<circle cx="315.90" cy="69.90" r="0.85" fill="#111"/>
<circle cx="315.90" cy="76.00" r="0.85" fill="#111"/>
<circle cx="315.90" cy="78.00" r="0.85" fill="#111"/>
<circle cx="315.90" cy="80.00" r="0.85" fill="#111"/>
<circle cx="315.90" cy="84.30" r="0.85" fill="#111"/>
<circle cx="315.90" cy="89.00" r="0.85" fill="#111"/>
<circle cx="315.90" cy="94.00" r="0.85" fill="#111"/>
<circle cx="315.90" cy="103.00" r="0.85" fill="#111"/>
<circle cx="315.90" cy="106.50" r="0.85" fill="#111"/>
<circle cx="315.90" cy="109.00" r="0.85" fill="#111"/>
<circle cx="315.90" cy="113.00" r="0.85" fill="#111"/>
<circle cx="315.90" cy="119.30" r="0.85" fill="#111"/>
<line x1="312.10" y1="84.30" x2="319.70" y2="84.30" stroke="#111" stroke-width="1.15"/>
<path d="M341.40,69.90 C341.23,70.45 340.62,71.87 340.40,73.20 C340.18,74.53 340.03,76.53 340.10,77.90 C340.17,79.27 340.75,80.05 340.80,81.40 C340.85,82.75 340.82,84.25 340.40,86.00 C339.98,87.75 338.72,89.95 338.30,91.90 C337.88,93.85 337.90,96.33 337.90,97.70 C337.90,99.07 338.35,99.08 338.30,100.10 C338.25,101.12 337.72,103.18 337.60,103.80 Q336.10,104.30 334.60,103.80 C334.48,103.18 333.95,101.12 333.90,100.10 C333.85,99.08 334.30,99.07 334.30,97.70 C334.30,96.33 334.32,93.85 333.90,91.90 C333.48,89.95 332.22,87.75 331.80,86.00 C331.38,84.25 331.35,82.75 331.40,81.40 C331.45,80.05 332.03,79.27 332.10,77.90 C332.17,76.53 332.02,74.53 331.80,73.20 C331.58,71.87 330.97,70.45 330.80,69.90 Q336.10,69.40 341.40,69.90Z" fill="#b4102f" stroke="#850a22" stroke-width="0.5" stroke-opacity="0.7"/>
<circle cx="336.10" cy="70.30" r="0.85" fill="#111"/>
<circle cx="336.10" cy="76.80" r="0.85" fill="#111"/>
<circle cx="336.10" cy="81.30" r="0.85" fill="#111"/>
<circle cx="336.10" cy="86.00" r="0.85" fill="#111"/>
<circle cx="336.10" cy="91.00" r="0.85" fill="#111"/>
<circle cx="336.10" cy="103.30" r="0.85" fill="#111"/>
<line x1="331.80" y1="81.30" x2="340.40" y2="81.30" stroke="#111" stroke-width="1.15"/>
<path d="M360.80,70.30 C360.72,70.98 360.32,73.13 360.30,74.40 C360.28,75.67 360.93,76.15 360.70,77.90 C360.47,79.65 359.42,82.57 358.90,84.90 C358.38,87.23 357.55,89.77 357.60,91.90 C357.65,94.03 358.60,95.75 359.20,97.70 C359.80,99.65 360.75,101.45 361.20,103.60 C361.65,105.75 362.05,108.45 361.90,110.60 C361.75,112.75 360.82,114.93 360.30,116.50 C359.78,118.07 359.05,119.42 358.80,120.00 Q356.30,120.50 353.80,120.00 C353.55,119.42 352.82,118.07 352.30,116.50 C351.78,114.93 350.85,112.75 350.70,110.60 C350.55,108.45 350.95,105.75 351.40,103.60 C351.85,101.45 352.80,99.65 353.40,97.70 C354.00,95.75 354.95,94.03 355.00,91.90 C355.05,89.77 354.22,87.23 353.70,84.90 C353.18,82.57 352.13,79.65 351.90,77.90 C351.67,76.15 352.32,75.67 352.30,74.40 C352.28,73.13 351.88,70.98 351.80,70.30 Q356.30,69.80 360.80,70.30Z" fill="#e6911a" stroke="#c47510" stroke-width="0.5" stroke-opacity="0.7"/>
<circle cx="356.30" cy="70.80" r="0.85" fill="#111"/>
<circle cx="356.30" cy="77.20" r="0.85" fill="#111"/>
<circle cx="356.30" cy="79.60" r="0.85" fill="#111"/>
<circle cx="356.30" cy="108.50" r="0.85" fill="#111"/>
<circle cx="356.30" cy="110.60" r="0.85" fill="#111"/>
<circle cx="356.30" cy="119.30" r="0.85" fill="#111"/>
<line x1="351.10" y1="108.50" x2="361.50" y2="108.50" stroke="#111" stroke-width="1.15"/>
<path d="M377.30,69.70 C377.57,70.48 378.32,72.85 378.90,74.40 C379.48,75.95 380.43,77.65 380.80,79.00 C381.17,80.35 381.42,80.93 381.10,82.50 C380.78,84.07 379.27,86.25 378.90,88.40 C378.53,90.55 379.03,93.07 378.90,95.40 C378.77,97.73 378.37,100.73 378.10,102.40 C377.83,104.07 377.43,104.90 377.30,105.40 Q376.30,105.90 375.30,105.40 C375.17,104.90 374.77,104.07 374.50,102.40 C374.23,100.73 373.83,97.73 373.70,95.40 C373.57,93.07 374.07,90.55 373.70,88.40 C373.33,86.25 371.82,84.07 371.50,82.50 C371.18,80.93 371.43,80.35 371.80,79.00 C372.17,77.65 373.12,75.95 373.70,74.40 C374.28,72.85 375.03,70.48 375.30,69.70 Q376.30,69.20 377.30,69.70Z" fill="#b7ca92" stroke="#96ab70" stroke-width="0.5" stroke-opacity="0.7"/>
<circle cx="376.30" cy="70.20" r="0.85" fill="#111"/>
<circle cx="376.30" cy="78.50" r="0.85" fill="#111"/>
<circle cx="376.30" cy="82.30" r="0.85" fill="#111"/>
<circle cx="376.30" cy="89.60" r="0.85" fill="#111"/>
<circle cx="376.30" cy="94.40" r="0.85" fill="#111"/>
<circle cx="376.30" cy="105.00" r="0.85" fill="#111"/>
<line x1="371.50" y1="82.30" x2="381.10" y2="82.30" stroke="#111" stroke-width="1.15"/>
<path d="M423.50,103.60 C423.60,104.97 423.78,109.65 424.10,111.80 C424.42,113.95 424.77,115.23 425.40,116.50 C426.03,117.77 427.82,118.67 427.90,119.40 C427.98,120.13 426.23,120.65 425.90,120.90 Q422.90,121.40 419.90,120.90 C419.57,120.65 417.82,120.13 417.90,119.40 C417.98,118.67 419.77,117.77 420.40,116.50 C421.03,115.23 421.38,113.95 421.70,111.80 C422.02,109.65 422.20,104.97 422.30,103.60 Q422.90,103.10 423.50,103.60Z" fill="#d6d6d6" stroke="#888" stroke-width="0.4" stroke-opacity="0.7"/>
<circle cx="422.90" cy="104.00" r="0.85" fill="#111"/>
<circle cx="422.90" cy="112.50" r="0.85" fill="#111"/>
<circle cx="422.90" cy="114.50" r="0.85" fill="#111"/>
<circle cx="422.90" cy="119.20" r="0.85" fill="#111"/>
<circle cx="422.90" cy="120.30" r="0.85" fill="#111"/>
<line x1="418.50" y1="119.50" x2="427.30" y2="119.50" stroke="#111" stroke-width="1.15"/>
<path d="M444.40,70.30 C444.44,71.37 444.48,74.08 444.65,76.70 C444.82,79.32 444.96,83.47 445.40,86.00 C445.84,88.53 446.72,89.95 447.30,91.90 C447.88,93.85 448.90,95.95 448.90,97.70 C448.90,99.45 447.82,100.83 447.30,102.40 C446.78,103.97 445.88,105.53 445.80,107.10 C445.72,108.67 446.82,110.23 446.80,111.80 C446.77,113.37 446.05,115.43 445.65,116.50 C445.25,117.57 444.61,117.92 444.40,118.20 Q442.90,118.70 441.40,118.20 C441.19,117.92 440.55,117.57 440.15,116.50 C439.75,115.43 439.02,113.37 439.00,111.80 C438.98,110.23 440.08,108.67 440.00,107.10 C439.92,105.53 439.02,103.97 438.50,102.40 C437.98,100.83 436.90,99.45 436.90,97.70 C436.90,95.95 437.92,93.85 438.50,91.90 C439.08,89.95 439.96,88.53 440.40,86.00 C440.84,83.47 440.98,79.32 441.15,76.70 C441.32,74.08 441.36,71.37 441.40,70.30 Q442.90,69.80 444.40,70.30Z" fill="#2c5190" stroke="#1d3a70" stroke-width="0.5" stroke-opacity="0.7"/>
<circle cx="442.90" cy="70.70" r="0.85" fill="#111"/>
<circle cx="442.90" cy="74.50" r="0.85" fill="#111"/>
<circle cx="442.90" cy="78.50" r="0.85" fill="#111"/>
<circle cx="442.90" cy="83.00" r="0.85" fill="#111"/>
<circle cx="442.90" cy="88.00" r="0.85" fill="#111"/>
<circle cx="442.90" cy="92.00" r="0.85" fill="#111"/>
<circle cx="442.90" cy="95.00" r="0.85" fill="#111"/>
<circle cx="442.90" cy="97.70" r="0.85" fill="#111"/>
<circle cx="442.90" cy="101.00" r="0.85" fill="#111"/>
<circle cx="442.90" cy="104.00" r="0.85" fill="#111"/>
<circle cx="442.90" cy="107.00" r="0.85" fill="#111"/>
<circle cx="442.90" cy="110.00" r="0.85" fill="#111"/>
<circle cx="442.90" cy="113.00" r="0.85" fill="#111"/>
<circle cx="442.90" cy="117.60" r="0.85" fill="#111"/>
<line x1="438.30" y1="97.70" x2="447.50" y2="97.70" stroke="#111" stroke-width="1.15"/>
<path d="M466.70,70.30 C466.73,70.78 467.04,71.17 466.90,73.20 C466.76,75.23 465.95,79.38 465.85,82.50 C465.75,85.62 465.86,89.17 466.30,91.90 C466.74,94.63 468.20,96.95 468.50,98.90 C468.80,100.85 468.40,102.03 468.10,103.60 C467.80,105.17 466.93,107.52 466.70,108.30 Q463.10,108.80 459.50,108.30 C459.27,107.52 458.40,105.17 458.10,103.60 C457.80,102.03 457.40,100.85 457.70,98.90 C458.00,96.95 459.46,94.63 459.90,91.90 C460.34,89.17 460.45,85.62 460.35,82.50 C460.25,79.38 459.44,75.23 459.30,73.20 C459.16,71.17 459.47,70.78 459.50,70.30 Q463.10,69.80 466.70,70.30Z" fill="#b4102f" stroke="#850a22" stroke-width="0.5" stroke-opacity="0.7"/>
<circle cx="463.10" cy="70.70" r="0.85" fill="#111"/>
<circle cx="463.10" cy="77.00" r="0.85" fill="#111"/>
<circle cx="463.10" cy="86.50" r="0.85" fill="#111"/>
<circle cx="463.10" cy="93.40" r="0.85" fill="#111"/>
<circle cx="463.10" cy="98.50" r="0.85" fill="#111"/>
<circle cx="463.10" cy="100.50" r="0.85" fill="#111"/>
<circle cx="463.10" cy="107.80" r="0.85" fill="#111"/>
<line x1="459.90" y1="93.40" x2="466.30" y2="93.40" stroke="#111" stroke-width="1.15"/>
<path d="M488.00,93.70 C488.17,94.28 488.93,95.93 489.00,97.20 C489.07,98.47 488.98,99.85 488.40,101.30 C487.82,102.75 485.50,104.15 485.50,105.90 C485.50,107.65 487.90,110.23 488.40,111.80 C488.90,113.37 488.82,114.23 488.50,115.30 C488.18,116.37 486.83,117.72 486.50,118.20 Q483.30,118.70 480.10,118.20 C479.77,117.72 478.42,116.37 478.10,115.30 C477.78,114.23 477.70,113.37 478.20,111.80 C478.70,110.23 481.10,107.65 481.10,105.90 C481.10,104.15 478.78,102.75 478.20,101.30 C477.62,99.85 477.53,98.47 477.60,97.20 C477.67,95.93 478.43,94.28 478.60,93.70 Q483.30,93.20 488.00,93.70Z" fill="#e6911a" stroke="#c47510" stroke-width="0.5" stroke-opacity="0.7"/>
<circle cx="483.30" cy="94.20" r="0.85" fill="#111"/>
<circle cx="483.30" cy="97.50" r="0.85" fill="#111"/>
<circle cx="483.30" cy="99.50" r="0.85" fill="#111"/>
<circle cx="483.30" cy="112.00" r="0.85" fill="#111"/>
<circle cx="483.30" cy="113.50" r="0.85" fill="#111"/>
<circle cx="483.30" cy="117.70" r="0.85" fill="#111"/>
<line x1="478.40" y1="102.70" x2="488.20" y2="102.70" stroke="#111" stroke-width="1.15"/>
<path d="M504.10,80.00 C504.23,80.82 504.57,83.12 504.90,84.90 C505.23,86.68 505.58,88.72 506.10,90.70 C506.62,92.68 508.07,94.85 508.00,96.80 C507.93,98.75 505.93,100.48 505.65,102.40 C505.37,104.32 506.22,106.73 506.30,108.30 C506.37,109.87 506.42,110.83 506.10,111.80 C505.78,112.77 504.68,113.72 504.40,114.10 Q502.90,114.60 501.40,114.10 C501.12,113.72 500.02,112.77 499.70,111.80 C499.38,110.83 499.43,109.87 499.50,108.30 C499.57,106.73 500.43,104.32 500.15,102.40 C499.87,100.48 497.87,98.75 497.80,96.80 C497.72,94.85 499.18,92.68 499.70,90.70 C500.22,88.72 500.57,86.68 500.90,84.90 C501.23,83.12 501.57,80.82 501.70,80.00 Q502.90,79.50 504.10,80.00Z" fill="#b7ca92" stroke="#96ab70" stroke-width="0.5" stroke-opacity="0.7"/>
<circle cx="502.90" cy="80.50" r="0.85" fill="#111"/>
<circle cx="502.90" cy="90.30" r="0.85" fill="#111"/>
<circle cx="502.90" cy="96.80" r="0.85" fill="#111"/>
<circle cx="502.90" cy="109.50" r="0.85" fill="#111"/>
<circle cx="502.90" cy="113.60" r="0.85" fill="#111"/>
<line x1="498.10" y1="96.80" x2="507.70" y2="96.80" stroke="#111" stroke-width="1.15"/>
<text x="7.50" y="174.80" font-size="12.0" fill="#000" stroke="#000" stroke-width="0.3" font-weight="bold" textLength="7.10" lengthAdjust="spacingAndGlyphs">B</text>
<text x="33.00" y="187.00" font-size="8.0" fill="#1a1a1a" stroke="#1a1a1a" stroke-width="0.18" textLength="148.25" lengthAdjust="spacingAndGlyphs">Correlation between percentages of CD41</text>
<text x="182.40" y="183.60" font-size="4.2" fill="#1a1a1a" stroke="#1a1a1a" stroke-width="0.1">hi</text>
<text x="190.00" y="187.00" font-size="8.0" fill="#1a1a1a" stroke="#1a1a1a" stroke-width="0.18" textLength="88.75" lengthAdjust="spacingAndGlyphs">HSPCs in bone marrow and</text>
<text x="281.25" y="187.00" font-size="8.0" fill="#1a1a1a" stroke="#1a1a1a" stroke-width="0.18" textLength="227.45" lengthAdjust="spacingAndGlyphs"><tspan font-style="italic">JAK2</tspan>-V617F mutant allele burden in peripheral blood granulocytes</text>
<line x1="33.10" y1="206.10" x2="33.10" y2="285.60" stroke="#1a1a1a" stroke-width="1.2"/>
<line x1="32.50" y1="285.00" x2="112.40" y2="285.00" stroke="#1a1a1a" stroke-width="1.2"/>
<line x1="29.70" y1="208.40" x2="33.10" y2="208.40" stroke="#1a1a1a" stroke-width="1.0"/>
<text x="26.70" y="210.70" font-size="6.3" fill="#1a1a1a" stroke="#1a1a1a" stroke-width="0.1" text-anchor="end">100</text>
<line x1="29.70" y1="225.93" x2="33.10" y2="225.93" stroke="#1a1a1a" stroke-width="1.0"/>
<text x="26.70" y="228.23" font-size="6.3" fill="#1a1a1a" stroke="#1a1a1a" stroke-width="0.1" text-anchor="end">75</text>
<line x1="29.70" y1="243.45" x2="33.10" y2="243.45" stroke="#1a1a1a" stroke-width="1.0"/>
<text x="26.70" y="245.75" font-size="6.3" fill="#1a1a1a" stroke="#1a1a1a" stroke-width="0.1" text-anchor="end">50</text>
<line x1="29.70" y1="260.98" x2="33.10" y2="260.98" stroke="#1a1a1a" stroke-width="1.0"/>
<text x="26.70" y="263.28" font-size="6.3" fill="#1a1a1a" stroke="#1a1a1a" stroke-width="0.1" text-anchor="end">25</text>
<line x1="29.70" y1="278.50" x2="33.10" y2="278.50" stroke="#1a1a1a" stroke-width="1.0"/>
<text x="26.70" y="280.80" font-size="6.3" fill="#1a1a1a" stroke="#1a1a1a" stroke-width="0.1" text-anchor="end">0</text>
<line x1="40.20" y1="285.00" x2="40.20" y2="288.00" stroke="#1a1a1a" stroke-width="1.0"/>
<text x="40.20" y="298.10" font-size="6.2" fill="#1a1a1a" stroke="#1a1a1a" stroke-width="0.1" text-anchor="middle">0</text>
<line x1="57.50" y1="285.00" x2="57.50" y2="288.00" stroke="#1a1a1a" stroke-width="1.0"/>
<text x="57.50" y="298.10" font-size="6.2" fill="#1a1a1a" stroke="#1a1a1a" stroke-width="0.1" text-anchor="middle">25</text>
<line x1="74.80" y1="285.00" x2="74.80" y2="288.00" stroke="#1a1a1a" stroke-width="1.0"/>
<text x="74.80" y="298.10" font-size="6.2" fill="#1a1a1a" stroke="#1a1a1a" stroke-width="0.1" text-anchor="middle">50</text>
<line x1="92.10" y1="285.00" x2="92.10" y2="288.00" stroke="#1a1a1a" stroke-width="1.0"/>
<text x="92.10" y="298.10" font-size="6.2" fill="#1a1a1a" stroke="#1a1a1a" stroke-width="0.1" text-anchor="middle">75</text>
<line x1="109.40" y1="285.00" x2="109.40" y2="288.00" stroke="#1a1a1a" stroke-width="1.0"/>
<text x="109.40" y="298.10" font-size="6.2" fill="#1a1a1a" stroke="#1a1a1a" stroke-width="0.1" text-anchor="middle">100</text>
<text x="40.10" y="307.40" font-size="6.2" fill="#1a1a1a" stroke="#1a1a1a" stroke-width="0.1" textLength="66.60" lengthAdjust="spacingAndGlyphs">% <tspan font-style="italic">JAK2</tspan>-V617F in GRA</text>
<text x="85.85" y="212.30" font-size="6.8" fill="#1a1a1a" stroke="#1a1a1a" stroke-width="0.1" textLength="25.00" lengthAdjust="spacingAndGlyphs">r= 0.457</text>
<text x="85.85" y="220.40" font-size="6.8" fill="#1a1a1a" stroke="#1a1a1a" stroke-width="0.1" textLength="25.00" lengthAdjust="spacingAndGlyphs">p= 0.042</text>
<text x="54.15" y="201.60" font-size="6.9" fill="#1a1a1a" stroke="#1a1a1a" stroke-width="0.1" textLength="15.00" lengthAdjust="spacingAndGlyphs">CD41</text>
<text x="70.05" y="198.90" font-size="3.8" fill="#1a1a1a" stroke="#1a1a1a" stroke-width="0.1">hi</text>
<text x="76.15" y="201.60" font-size="6.9" fill="#1a1a1a" stroke="#1a1a1a" stroke-width="0.1" textLength="15.35" lengthAdjust="spacingAndGlyphs">HSCs</text>
<line x1="159.60" y1="207.40" x2="159.60" y2="285.60" stroke="#1a1a1a" stroke-width="1.2"/>
<line x1="159.00" y1="285.00" x2="238.10" y2="285.00" stroke="#1a1a1a" stroke-width="1.2"/>
<line x1="156.20" y1="210.20" x2="159.60" y2="210.20" stroke="#1a1a1a" stroke-width="1.0"/>
<text x="153.20" y="212.50" font-size="6.3" fill="#1a1a1a" stroke="#1a1a1a" stroke-width="0.1" text-anchor="end">100</text>
<line x1="156.20" y1="227.27" x2="159.60" y2="227.27" stroke="#1a1a1a" stroke-width="1.0"/>
<text x="153.20" y="229.57" font-size="6.3" fill="#1a1a1a" stroke="#1a1a1a" stroke-width="0.1" text-anchor="end">75</text>
<line x1="156.20" y1="244.35" x2="159.60" y2="244.35" stroke="#1a1a1a" stroke-width="1.0"/>
<text x="153.20" y="246.65" font-size="6.3" fill="#1a1a1a" stroke="#1a1a1a" stroke-width="0.1" text-anchor="end">50</text>
<line x1="156.20" y1="261.43" x2="159.60" y2="261.43" stroke="#1a1a1a" stroke-width="1.0"/>
<text x="153.20" y="263.73" font-size="6.3" fill="#1a1a1a" stroke="#1a1a1a" stroke-width="0.1" text-anchor="end">25</text>
<line x1="156.20" y1="278.50" x2="159.60" y2="278.50" stroke="#1a1a1a" stroke-width="1.0"/>
<text x="153.20" y="280.80" font-size="6.3" fill="#1a1a1a" stroke="#1a1a1a" stroke-width="0.1" text-anchor="end">0</text>
<line x1="166.30" y1="285.00" x2="166.30" y2="288.00" stroke="#1a1a1a" stroke-width="1.0"/>
<text x="166.30" y="298.10" font-size="6.2" fill="#1a1a1a" stroke="#1a1a1a" stroke-width="0.1" text-anchor="middle">0</text>
<line x1="183.38" y1="285.00" x2="183.38" y2="288.00" stroke="#1a1a1a" stroke-width="1.0"/>
<text x="183.38" y="298.10" font-size="6.2" fill="#1a1a1a" stroke="#1a1a1a" stroke-width="0.1" text-anchor="middle">25</text>
<line x1="200.45" y1="285.00" x2="200.45" y2="288.00" stroke="#1a1a1a" stroke-width="1.0"/>
<text x="200.45" y="298.10" font-size="6.2" fill="#1a1a1a" stroke="#1a1a1a" stroke-width="0.1" text-anchor="middle">50</text>
<line x1="217.53" y1="285.00" x2="217.53" y2="288.00" stroke="#1a1a1a" stroke-width="1.0"/>
<text x="217.53" y="298.10" font-size="6.2" fill="#1a1a1a" stroke="#1a1a1a" stroke-width="0.1" text-anchor="middle">75</text>
<line x1="234.60" y1="285.00" x2="234.60" y2="288.00" stroke="#1a1a1a" stroke-width="1.0"/>
<text x="234.60" y="298.10" font-size="6.2" fill="#1a1a1a" stroke="#1a1a1a" stroke-width="0.1" text-anchor="middle">100</text>
<text x="166.60" y="307.40" font-size="6.2" fill="#1a1a1a" stroke="#1a1a1a" stroke-width="0.1" textLength="66.60" lengthAdjust="spacingAndGlyphs">% <tspan font-style="italic">JAK2</tspan>-V617F in GRA</text>
<text x="212.35" y="212.30" font-size="6.8" fill="#1a1a1a" stroke="#1a1a1a" stroke-width="0.1" textLength="25.00" lengthAdjust="spacingAndGlyphs">r= 0.280</text>
<text x="212.35" y="220.40" font-size="6.8" fill="#1a1a1a" stroke="#1a1a1a" stroke-width="0.1" textLength="25.00" lengthAdjust="spacingAndGlyphs">p= 0.231</text>
<text x="180.65" y="201.60" font-size="6.9" fill="#1a1a1a" stroke="#1a1a1a" stroke-width="0.1" textLength="15.00" lengthAdjust="spacingAndGlyphs">CD41</text>
<text x="196.55" y="198.90" font-size="3.8" fill="#1a1a1a" stroke="#1a1a1a" stroke-width="0.1">hi</text>
<text x="202.65" y="201.60" font-size="6.9" fill="#1a1a1a" stroke="#1a1a1a" stroke-width="0.1" textLength="13.80" lengthAdjust="spacingAndGlyphs">CMP</text>
<line x1="286.20" y1="207.40" x2="286.20" y2="285.60" stroke="#1a1a1a" stroke-width="1.2"/>
<line x1="285.60" y1="285.00" x2="363.90" y2="285.00" stroke="#1a1a1a" stroke-width="1.2"/>
<line x1="282.80" y1="210.20" x2="286.20" y2="210.20" stroke="#1a1a1a" stroke-width="1.0"/>
<text x="279.80" y="212.50" font-size="6.3" fill="#1a1a1a" stroke="#1a1a1a" stroke-width="0.1" text-anchor="end">100</text>
<line x1="282.80" y1="227.27" x2="286.20" y2="227.27" stroke="#1a1a1a" stroke-width="1.0"/>
<text x="279.80" y="229.57" font-size="6.3" fill="#1a1a1a" stroke="#1a1a1a" stroke-width="0.1" text-anchor="end">75</text>
<line x1="282.80" y1="244.35" x2="286.20" y2="244.35" stroke="#1a1a1a" stroke-width="1.0"/>
<text x="279.80" y="246.65" font-size="6.3" fill="#1a1a1a" stroke="#1a1a1a" stroke-width="0.1" text-anchor="end">50</text>
<line x1="282.80" y1="261.43" x2="286.20" y2="261.43" stroke="#1a1a1a" stroke-width="1.0"/>
<text x="279.80" y="263.73" font-size="6.3" fill="#1a1a1a" stroke="#1a1a1a" stroke-width="0.1" text-anchor="end">25</text>
<line x1="282.80" y1="278.50" x2="286.20" y2="278.50" stroke="#1a1a1a" stroke-width="1.0"/>
<text x="279.80" y="280.80" font-size="6.3" fill="#1a1a1a" stroke="#1a1a1a" stroke-width="0.1" text-anchor="end">0</text>
<line x1="292.50" y1="285.00" x2="292.50" y2="288.00" stroke="#1a1a1a" stroke-width="1.0"/>
<text x="292.50" y="298.10" font-size="6.2" fill="#1a1a1a" stroke="#1a1a1a" stroke-width="0.1" text-anchor="middle">0</text>
<line x1="309.62" y1="285.00" x2="309.62" y2="288.00" stroke="#1a1a1a" stroke-width="1.0"/>
<text x="309.62" y="298.10" font-size="6.2" fill="#1a1a1a" stroke="#1a1a1a" stroke-width="0.1" text-anchor="middle">25</text>
<line x1="326.75" y1="285.00" x2="326.75" y2="288.00" stroke="#1a1a1a" stroke-width="1.0"/>
<text x="326.75" y="298.10" font-size="6.2" fill="#1a1a1a" stroke="#1a1a1a" stroke-width="0.1" text-anchor="middle">50</text>
<line x1="343.88" y1="285.00" x2="343.88" y2="288.00" stroke="#1a1a1a" stroke-width="1.0"/>
<text x="343.88" y="298.10" font-size="6.2" fill="#1a1a1a" stroke="#1a1a1a" stroke-width="0.1" text-anchor="middle">75</text>
<line x1="361.00" y1="285.00" x2="361.00" y2="288.00" stroke="#1a1a1a" stroke-width="1.0"/>
<text x="361.00" y="298.10" font-size="6.2" fill="#1a1a1a" stroke="#1a1a1a" stroke-width="0.1" text-anchor="middle">100</text>
<text x="293.20" y="307.40" font-size="6.2" fill="#1a1a1a" stroke="#1a1a1a" stroke-width="0.1" textLength="66.60" lengthAdjust="spacingAndGlyphs">% <tspan font-style="italic">JAK2</tspan>-V617F in GRA</text>
<text x="338.95" y="212.30" font-size="6.8" fill="#1a1a1a" stroke="#1a1a1a" stroke-width="0.1" textLength="25.00" lengthAdjust="spacingAndGlyphs">r= 0.421</text>
<text x="338.95" y="220.40" font-size="6.8" fill="#1a1a1a" stroke="#1a1a1a" stroke-width="0.1" textLength="25.00" lengthAdjust="spacingAndGlyphs">p= 0.064</text>
<text x="307.25" y="201.60" font-size="6.9" fill="#1a1a1a" stroke="#1a1a1a" stroke-width="0.1" textLength="15.00" lengthAdjust="spacingAndGlyphs">CD41</text>
<text x="323.15" y="198.90" font-size="3.8" fill="#1a1a1a" stroke="#1a1a1a" stroke-width="0.1">hi</text>
<text x="329.25" y="201.60" font-size="6.9" fill="#1a1a1a" stroke="#1a1a1a" stroke-width="0.1" textLength="14.40" lengthAdjust="spacingAndGlyphs">GMP</text>
<line x1="412.80" y1="207.40" x2="412.80" y2="285.60" stroke="#1a1a1a" stroke-width="1.2"/>
<line x1="412.20" y1="285.00" x2="490.60" y2="285.00" stroke="#1a1a1a" stroke-width="1.2"/>
<line x1="409.40" y1="210.20" x2="412.80" y2="210.20" stroke="#1a1a1a" stroke-width="1.0"/>
<text x="406.40" y="212.50" font-size="6.3" fill="#1a1a1a" stroke="#1a1a1a" stroke-width="0.1" text-anchor="end">100</text>
<line x1="409.40" y1="227.27" x2="412.80" y2="227.27" stroke="#1a1a1a" stroke-width="1.0"/>
<text x="406.40" y="229.57" font-size="6.3" fill="#1a1a1a" stroke="#1a1a1a" stroke-width="0.1" text-anchor="end">75</text>
<line x1="409.40" y1="244.35" x2="412.80" y2="244.35" stroke="#1a1a1a" stroke-width="1.0"/>
<text x="406.40" y="246.65" font-size="6.3" fill="#1a1a1a" stroke="#1a1a1a" stroke-width="0.1" text-anchor="end">50</text>
<line x1="409.40" y1="261.43" x2="412.80" y2="261.43" stroke="#1a1a1a" stroke-width="1.0"/>
<text x="406.40" y="263.73" font-size="6.3" fill="#1a1a1a" stroke="#1a1a1a" stroke-width="0.1" text-anchor="end">25</text>
<line x1="409.40" y1="278.50" x2="412.80" y2="278.50" stroke="#1a1a1a" stroke-width="1.0"/>
<text x="406.40" y="280.80" font-size="6.3" fill="#1a1a1a" stroke="#1a1a1a" stroke-width="0.1" text-anchor="end">0</text>
<line x1="419.00" y1="285.00" x2="419.00" y2="288.00" stroke="#1a1a1a" stroke-width="1.0"/>
<text x="419.00" y="298.10" font-size="6.2" fill="#1a1a1a" stroke="#1a1a1a" stroke-width="0.1" text-anchor="middle">0</text>
<line x1="436.27" y1="285.00" x2="436.27" y2="288.00" stroke="#1a1a1a" stroke-width="1.0"/>
<text x="436.27" y="298.10" font-size="6.2" fill="#1a1a1a" stroke="#1a1a1a" stroke-width="0.1" text-anchor="middle">25</text>
<line x1="453.55" y1="285.00" x2="453.55" y2="288.00" stroke="#1a1a1a" stroke-width="1.0"/>
<text x="453.55" y="298.10" font-size="6.2" fill="#1a1a1a" stroke="#1a1a1a" stroke-width="0.1" text-anchor="middle">50</text>
<line x1="470.83" y1="285.00" x2="470.83" y2="288.00" stroke="#1a1a1a" stroke-width="1.0"/>
<text x="470.83" y="298.10" font-size="6.2" fill="#1a1a1a" stroke="#1a1a1a" stroke-width="0.1" text-anchor="middle">75</text>
<line x1="488.10" y1="285.00" x2="488.10" y2="288.00" stroke="#1a1a1a" stroke-width="1.0"/>
<text x="488.10" y="298.10" font-size="6.2" fill="#1a1a1a" stroke="#1a1a1a" stroke-width="0.1" text-anchor="middle">100</text>
<text x="419.80" y="307.40" font-size="6.2" fill="#1a1a1a" stroke="#1a1a1a" stroke-width="0.1" textLength="66.60" lengthAdjust="spacingAndGlyphs">% <tspan font-style="italic">JAK2</tspan>-V617F in GRA</text>
<text x="465.55" y="212.30" font-size="6.8" fill="#1a1a1a" stroke="#1a1a1a" stroke-width="0.1" textLength="25.00" lengthAdjust="spacingAndGlyphs">r= 0.300</text>
<text x="465.55" y="220.40" font-size="6.8" fill="#1a1a1a" stroke="#1a1a1a" stroke-width="0.1" textLength="25.00" lengthAdjust="spacingAndGlyphs">p= 0.197</text>
<text x="433.85" y="201.60" font-size="6.9" fill="#1a1a1a" stroke="#1a1a1a" stroke-width="0.1" textLength="15.00" lengthAdjust="spacingAndGlyphs">CD41</text>
<text x="449.75" y="198.90" font-size="3.8" fill="#1a1a1a" stroke="#1a1a1a" stroke-width="0.1">hi</text>
<text x="455.85" y="201.60" font-size="6.9" fill="#1a1a1a" stroke="#1a1a1a" stroke-width="0.1" textLength="13.30" lengthAdjust="spacingAndGlyphs">MEP</text>
<line x1="42.00" y1="273.80" x2="109.30" y2="253.30" stroke="#1a1a1a" stroke-width="1.0"/>
<circle cx="42.00" cy="278.30" r="1.75" fill="#b3c78d"/>
<circle cx="44.50" cy="278.30" r="1.75" fill="#b3c78d"/>
<circle cx="46.30" cy="277.40" r="1.75" fill="#e8911a"/>
<circle cx="46.30" cy="279.30" r="1.75" fill="#e8911a"/>
<circle cx="50.50" cy="278.80" r="1.75" fill="#e8911a"/>
<circle cx="58.00" cy="275.80" r="1.75" fill="#e8911a"/>
<circle cx="57.30" cy="257.80" r="1.75" fill="#b5103a"/>
<circle cx="67.00" cy="238.80" r="1.75" fill="#b5103a"/>
<circle cx="69.80" cy="234.50" r="1.75" fill="#b5103a"/>
<circle cx="69.80" cy="277.80" r="1.75" fill="#e8911a"/>
<circle cx="74.50" cy="256.50" r="1.75" fill="#e8911a"/>
<circle cx="74.50" cy="274.50" r="1.75" fill="#b3c78d"/>
<circle cx="80.50" cy="251.00" r="1.75" fill="#b3c78d"/>
<circle cx="80.00" cy="266.00" r="1.75" fill="#e8911a"/>
<circle cx="91.30" cy="267.00" r="1.75" fill="#b3c78d"/>
<circle cx="94.00" cy="276.50" r="1.75" fill="#b3c78d"/>
<circle cx="101.00" cy="262.00" r="1.75" fill="#b5103a"/>
<circle cx="105.80" cy="238.30" r="1.75" fill="#b5103a"/>
<circle cx="106.80" cy="261.30" r="1.75" fill="#b3c78d"/>
<circle cx="109.30" cy="256.50" r="1.75" fill="#b5103a"/>
<line x1="168.00" y1="255.80" x2="235.00" y2="243.80" stroke="#1a1a1a" stroke-width="1.0"/>
<circle cx="168.00" cy="244.50" r="1.75" fill="#b3c78d"/>
<circle cx="169.50" cy="252.30" r="1.75" fill="#b3c78d"/>
<circle cx="172.50" cy="270.80" r="1.75" fill="#e8911a"/>
<circle cx="172.50" cy="274.50" r="1.75" fill="#e8911a"/>
<circle cx="176.50" cy="258.30" r="1.75" fill="#e8911a"/>
<circle cx="183.50" cy="238.00" r="1.75" fill="#b5103a"/>
<circle cx="183.50" cy="250.50" r="1.75" fill="#e8911a"/>
<circle cx="193.00" cy="235.30" r="1.75" fill="#b5103a"/>
<circle cx="195.80" cy="231.00" r="1.75" fill="#b5103a"/>
<circle cx="195.80" cy="267.50" r="1.75" fill="#e8911a"/>
<circle cx="200.80" cy="245.50" r="1.75" fill="#e8911a"/>
<circle cx="200.80" cy="263.50" r="1.75" fill="#b3c78d"/>
<circle cx="206.00" cy="244.50" r="1.75" fill="#e8911a"/>
<circle cx="206.80" cy="236.00" r="1.75" fill="#b3c78d"/>
<circle cx="217.00" cy="246.50" r="1.75" fill="#b3c78d"/>
<circle cx="220.00" cy="267.00" r="1.75" fill="#b3c78d"/>
<circle cx="226.80" cy="259.50" r="1.75" fill="#b5103a"/>
<circle cx="231.50" cy="225.50" r="1.75" fill="#b5103a"/>
<circle cx="232.50" cy="248.30" r="1.75" fill="#b3c78d"/>
<circle cx="235.00" cy="245.50" r="1.75" fill="#b5103a"/>
<line x1="295.00" y1="253.80" x2="361.50" y2="232.00" stroke="#1a1a1a" stroke-width="1.0"/>
<circle cx="295.00" cy="249.50" r="1.75" fill="#b3c78d"/>
<circle cx="296.50" cy="233.00" r="1.75" fill="#b3c78d"/>
<circle cx="299.00" cy="264.30" r="1.75" fill="#e8911a"/>
<circle cx="299.00" cy="275.80" r="1.75" fill="#e8911a"/>
<circle cx="303.00" cy="266.80" r="1.75" fill="#e8911a"/>
<circle cx="310.00" cy="259.30" r="1.75" fill="#b5103a"/>
<circle cx="310.80" cy="231.30" r="1.75" fill="#e8911a"/>
<circle cx="319.50" cy="230.80" r="1.75" fill="#b5103a"/>
<circle cx="322.30" cy="224.50" r="1.75" fill="#b5103a"/>
<circle cx="322.30" cy="266.80" r="1.75" fill="#e8911a"/>
<circle cx="327.00" cy="234.00" r="1.75" fill="#e8911a"/>
<circle cx="327.00" cy="244.30" r="1.75" fill="#b3c78d"/>
<circle cx="332.50" cy="224.80" r="1.75" fill="#e8911a"/>
<circle cx="333.30" cy="223.80" r="1.75" fill="#b3c78d"/>
<circle cx="343.50" cy="236.80" r="1.75" fill="#b3c78d"/>
<circle cx="346.30" cy="261.30" r="1.75" fill="#b3c78d"/>
<circle cx="353.00" cy="242.00" r="1.75" fill="#b5103a"/>
<circle cx="357.80" cy="223.80" r="1.75" fill="#b5103a"/>
<circle cx="358.50" cy="233.80" r="1.75" fill="#b3c78d"/>
<circle cx="361.50" cy="240.80" r="1.75" fill="#b5103a"/>
<line x1="421.00" y1="259.30" x2="488.00" y2="247.00" stroke="#1a1a1a" stroke-width="1.0"/>
<circle cx="421.00" cy="253.30" r="1.75" fill="#b3c78d"/>
<circle cx="422.80" cy="251.50" r="1.75" fill="#b3c78d"/>
<circle cx="425.50" cy="270.00" r="1.75" fill="#e8911a"/>
<circle cx="425.50" cy="274.00" r="1.75" fill="#e8911a"/>
<circle cx="429.50" cy="249.50" r="1.75" fill="#e8911a"/>
<circle cx="436.50" cy="241.80" r="1.75" fill="#b5103a"/>
<circle cx="437.30" cy="258.00" r="1.75" fill="#e8911a"/>
<circle cx="446.30" cy="264.00" r="1.75" fill="#b5103a"/>
<circle cx="449.00" cy="232.00" r="1.75" fill="#b5103a"/>
<circle cx="449.00" cy="268.30" r="1.75" fill="#e8911a"/>
<circle cx="453.50" cy="255.30" r="1.75" fill="#e8911a"/>
<circle cx="453.50" cy="265.80" r="1.75" fill="#b3c78d"/>
<circle cx="459.30" cy="252.00" r="1.75" fill="#e8911a"/>
<circle cx="459.80" cy="234.50" r="1.75" fill="#b3c78d"/>
<circle cx="470.00" cy="252.50" r="1.75" fill="#b3c78d"/>
<circle cx="472.80" cy="270.00" r="1.75" fill="#b3c78d"/>
<circle cx="479.50" cy="256.00" r="1.75" fill="#b5103a"/>
<circle cx="484.50" cy="224.30" r="1.75" fill="#b5103a"/>
<circle cx="485.00" cy="245.00" r="1.75" fill="#b3c78d"/>
<circle cx="488.00" cy="254.50" r="1.75" fill="#b5103a"/>
<text x="7.40" y="334.40" font-size="12.0" fill="#000" stroke="#000" stroke-width="0.3" font-weight="bold" textLength="7.60" lengthAdjust="spacingAndGlyphs">C</text>
<text x="40.00" y="334.20" font-size="8.0" fill="#1a1a1a" stroke="#1a1a1a" stroke-width="0.18" textLength="112.70" lengthAdjust="spacingAndGlyphs"><tspan font-style="italic">In vitro</tspan> lineage potential of CD41</text>
<text x="154.40" y="330.90" font-size="7.9" fill="#1a1a1a" stroke="#1a1a1a" stroke-width="0.1" textLength="5.70" lengthAdjust="spacingAndGlyphs">lo</text>
<text x="162.80" y="334.20" font-size="8.0" fill="#1a1a1a" stroke="#1a1a1a" stroke-width="0.18" textLength="30.20" lengthAdjust="spacingAndGlyphs">and CD41</text>
<text x="197.10" y="330.80" font-size="7.9" fill="#1a1a1a" stroke="#1a1a1a" stroke-width="0.1" textLength="5.60" lengthAdjust="spacingAndGlyphs">hi</text>
<text x="205.00" y="334.20" font-size="8.0" fill="#1a1a1a" stroke="#1a1a1a" stroke-width="0.18" textLength="179.20" lengthAdjust="spacingAndGlyphs">HSCs and CMPs from bone marrow of MPN patients</text>
<text x="72.50" y="343.80" font-size="6.3" fill="#1a1a1a" stroke="#1a1a1a" stroke-width="0.1" textLength="115.50" lengthAdjust="spacingAndGlyphs">HSC (CD34+/CD38–/CD90+/CD45RA–)</text>
<line x1="41.20" y1="348.00" x2="219.50" y2="348.00" stroke="#1a1a1a" stroke-width="1.1"/>
<text x="323.60" y="343.80" font-size="6.3" fill="#1a1a1a" stroke="#1a1a1a" stroke-width="0.1" textLength="122.30" lengthAdjust="spacingAndGlyphs">CMP (CD34+/CD38+/CD123+/CD45RA–)</text>
<line x1="296.00" y1="348.00" x2="474.20" y2="348.00" stroke="#1a1a1a" stroke-width="1.1"/>
<text x="51.00" y="357.00" font-size="6.3" fill="#1a1a1a" stroke="#1a1a1a" stroke-width="0.1" textLength="28.50" lengthAdjust="spacingAndGlyphs">Numbers:</text>
<text x="27.50" y="367.50" font-size="6.3" fill="#1a1a1a" stroke="#1a1a1a" stroke-width="0.1" textLength="41.00" lengthAdjust="spacingAndGlyphs">cells: 349 204</text>
<text x="16.30" y="376.50" font-size="6.3" fill="#1a1a1a" stroke="#1a1a1a" stroke-width="0.1" textLength="50.00" lengthAdjust="spacingAndGlyphs">colonies: 140 &#160;61</text>
<text x="107.50" y="357.00" font-size="6.3" fill="#1a1a1a" stroke="#1a1a1a" stroke-width="0.1" textLength="37.50" lengthAdjust="spacingAndGlyphs">Percentages:</text>
<text x="107.50" y="367.50" font-size="6.3" fill="#1a1a1a" stroke="#1a1a1a" stroke-width="0.1" textLength="29.00" lengthAdjust="spacingAndGlyphs">genotypes</text>
<text x="107.50" y="375.00" font-size="6.3" fill="#1a1a1a" stroke="#1a1a1a" stroke-width="0.1" textLength="31.00" lengthAdjust="spacingAndGlyphs">of colonies</text>
<text x="95.00" y="382.00" font-size="6.3" fill="#1a1a1a" stroke="#1a1a1a" stroke-width="0.1">%</text>
<text x="192.00" y="369.20" font-size="6.5" fill="#1a1a1a" stroke="#1a1a1a" stroke-width="0.1" text-anchor="middle" textLength="36.00" lengthAdjust="spacingAndGlyphs">phenotypes</text>
<line x1="40.50" y1="389.00" x2="40.50" y2="478.90" stroke="#1a1a1a" stroke-width="1.2"/>
<line x1="39.90" y1="478.30" x2="69.50" y2="478.30" stroke="#1a1a1a" stroke-width="1.2"/>
<line x1="37.10" y1="389.50" x2="40.50" y2="389.50" stroke="#1a1a1a" stroke-width="1.0"/>
<text x="34.10" y="391.80" font-size="6.3" fill="#1a1a1a" stroke="#1a1a1a" stroke-width="0.1" text-anchor="end">400</text>
<line x1="38.50" y1="400.60" x2="40.50" y2="400.60" stroke="#1a1a1a" stroke-width="0.9"/>
<line x1="37.10" y1="411.70" x2="40.50" y2="411.70" stroke="#1a1a1a" stroke-width="1.0"/>
<text x="34.10" y="414.00" font-size="6.3" fill="#1a1a1a" stroke="#1a1a1a" stroke-width="0.1" text-anchor="end">300</text>
<line x1="38.50" y1="422.80" x2="40.50" y2="422.80" stroke="#1a1a1a" stroke-width="0.9"/>
<line x1="37.10" y1="433.90" x2="40.50" y2="433.90" stroke="#1a1a1a" stroke-width="1.0"/>
<text x="34.10" y="436.20" font-size="6.3" fill="#1a1a1a" stroke="#1a1a1a" stroke-width="0.1" text-anchor="end">200</text>
<line x1="38.50" y1="445.00" x2="40.50" y2="445.00" stroke="#1a1a1a" stroke-width="0.9"/>
<line x1="37.10" y1="456.10" x2="40.50" y2="456.10" stroke="#1a1a1a" stroke-width="1.0"/>
<text x="34.10" y="458.40" font-size="6.3" fill="#1a1a1a" stroke="#1a1a1a" stroke-width="0.1" text-anchor="end">100</text>
<line x1="38.50" y1="467.20" x2="40.50" y2="467.20" stroke="#1a1a1a" stroke-width="0.9"/>
<line x1="37.10" y1="478.30" x2="40.50" y2="478.30" stroke="#1a1a1a" stroke-width="1.0"/>
<text x="34.10" y="480.60" font-size="6.3" fill="#1a1a1a" stroke="#1a1a1a" stroke-width="0.1" text-anchor="end">0</text>
<rect x="45.50" y="460.80" width="8.80" height="17.50" fill="#c6c4c9"/>
<rect x="45.50" y="447.10" width="8.80" height="13.70" fill="#3e4a9c"/>
<rect x="45.50" y="401.50" width="8.00" height="76.80" fill="none" stroke="#1a1a1a" stroke-width="1.0"/>
<rect x="59.00" y="472.00" width="8.80" height="6.30" fill="#c6c4c9"/>
<rect x="59.00" y="465.00" width="8.80" height="7.00" fill="#3e4a9c"/>
<rect x="59.50" y="433.50" width="8.00" height="44.80" fill="none" stroke="#1a1a1a" stroke-width="1.0"/>
<line x1="54.30" y1="447.10" x2="90.70" y2="388.60" stroke="#555" stroke-width="0.8" stroke-dasharray="2.4,1.6"/>
<line x1="67.80" y1="465.00" x2="89.30" y2="391.30" stroke="#555" stroke-width="0.8" stroke-dasharray="2.4,1.6"/>
<text x="68.80" y="471.00" font-size="5.2" fill="#3e4a9c" stroke="#3e4a9c" stroke-width="0.1" font-style="italic">VF</text>
<text x="68.80" y="477.50" font-size="5.2" fill="#cfcfcf" stroke="#cfcfcf" stroke-width="0.1" font-style="italic">WT</text>
<text x="16.30" y="487.50" font-size="6.4" fill="#1a1a1a" stroke="#1a1a1a" stroke-width="0.1" textLength="18.30" lengthAdjust="spacingAndGlyphs">CD41:</text>
<text x="49.80" y="487.50" font-size="6.4" fill="#1a1a1a" stroke="#1a1a1a" stroke-width="0.1" text-anchor="middle">lo</text>
<text x="63.60" y="487.50" font-size="6.4" fill="#1a1a1a" stroke="#1a1a1a" stroke-width="0.1" text-anchor="middle">hi</text>
<line x1="107.40" y1="389.00" x2="107.40" y2="478.90" stroke="#1a1a1a" stroke-width="1.2"/>
<line x1="106.80" y1="478.30" x2="137.40" y2="478.30" stroke="#1a1a1a" stroke-width="1.2"/>
<line x1="104.00" y1="389.40" x2="107.40" y2="389.40" stroke="#1a1a1a" stroke-width="1.0"/>
<text x="101.40" y="391.70" font-size="6.3" fill="#1a1a1a" stroke="#1a1a1a" stroke-width="0.1" text-anchor="end">100</text>
<line x1="104.00" y1="407.18" x2="107.40" y2="407.18" stroke="#1a1a1a" stroke-width="1.0"/>
<text x="101.40" y="409.48" font-size="6.3" fill="#1a1a1a" stroke="#1a1a1a" stroke-width="0.1" text-anchor="end">80</text>
<line x1="104.00" y1="424.96" x2="107.40" y2="424.96" stroke="#1a1a1a" stroke-width="1.0"/>
<text x="101.40" y="427.26" font-size="6.3" fill="#1a1a1a" stroke="#1a1a1a" stroke-width="0.1" text-anchor="end">60</text>
<line x1="104.00" y1="442.74" x2="107.40" y2="442.74" stroke="#1a1a1a" stroke-width="1.0"/>
<text x="101.40" y="445.04" font-size="6.3" fill="#1a1a1a" stroke="#1a1a1a" stroke-width="0.1" text-anchor="end">40</text>
<line x1="104.00" y1="460.52" x2="107.40" y2="460.52" stroke="#1a1a1a" stroke-width="1.0"/>
<text x="101.40" y="462.82" font-size="6.3" fill="#1a1a1a" stroke="#1a1a1a" stroke-width="0.1" text-anchor="end">20</text>
<line x1="104.00" y1="478.30" x2="107.40" y2="478.30" stroke="#1a1a1a" stroke-width="1.0"/>
<text x="101.40" y="480.60" font-size="6.3" fill="#1a1a1a" stroke="#1a1a1a" stroke-width="0.1" text-anchor="end">0</text>
<rect x="112.50" y="389.40" width="8.80" height="39.80" fill="#3e4a9c"/>
<rect x="112.50" y="429.20" width="8.80" height="49.10" fill="#c6c4c9"/>
<rect x="126.30" y="389.40" width="8.70" height="49.10" fill="#3e4a9c"/>
<rect x="126.30" y="438.50" width="8.70" height="39.80" fill="#c6c4c9"/>
<text x="137.20" y="422.80" font-size="5.6" fill="#3e4a9c" stroke="#3e4a9c" stroke-width="0.1" font-style="italic">VF</text>
<text x="137.20" y="458.00" font-size="5.6" fill="#cfcfcf" stroke="#cfcfcf" stroke-width="0.1" font-style="italic">WT</text>
<text x="82.50" y="487.50" font-size="6.4" fill="#1a1a1a" stroke="#1a1a1a" stroke-width="0.1" textLength="18.30" lengthAdjust="spacingAndGlyphs">CD41:</text>
<text x="116.30" y="487.50" font-size="6.4" fill="#1a1a1a" stroke="#1a1a1a" stroke-width="0.1" text-anchor="middle">lo</text>
<text x="130.50" y="487.50" font-size="6.4" fill="#1a1a1a" stroke="#1a1a1a" stroke-width="0.1" text-anchor="middle">hi</text>
<line x1="164.50" y1="478.30" x2="219.50" y2="478.30" stroke="#1a1a1a" stroke-width="1.2"/>
<rect x="168.80" y="389.40" width="8.70" height="56.60" fill="#e0901c"/>
<rect x="168.80" y="446.00" width="8.70" height="26.00" fill="#9a90cd"/>
<rect x="168.80" y="472.00" width="8.70" height="6.30" fill="#4b1d6b"/>
<rect x="181.80" y="389.40" width="9.00" height="56.20" fill="#e0901c"/>
<rect x="181.80" y="445.60" width="9.00" height="29.40" fill="#9a90cd"/>
<rect x="181.80" y="475.00" width="9.00" height="3.30" fill="#4b1d6b"/>
<rect x="195.00" y="389.40" width="8.90" height="71.20" fill="#e0901c"/>
<rect x="195.00" y="460.60" width="8.90" height="17.00" fill="#9a90cd"/>
<rect x="195.00" y="477.60" width="8.90" height="0.70" fill="#4b1d6b"/>
<rect x="208.30" y="389.40" width="8.80" height="43.60" fill="#e0901c"/>
<rect x="208.30" y="433.00" width="8.80" height="22.80" fill="#9a90cd"/>
<rect x="208.30" y="455.80" width="8.80" height="22.50" fill="#4b1d6b"/>
<line x1="173.15" y1="380.70" x2="173.15" y2="389.40" stroke="#222" stroke-width="0.9"/>
<line x1="171.05" y1="380.70" x2="175.25" y2="380.70" stroke="#222" stroke-width="0.9"/>
<line x1="186.30" y1="375.80" x2="186.30" y2="389.40" stroke="#222" stroke-width="0.9"/>
<line x1="184.20" y1="375.80" x2="188.40" y2="375.80" stroke="#222" stroke-width="0.9"/>
<line x1="199.45" y1="382.70" x2="199.45" y2="389.40" stroke="#222" stroke-width="0.9"/>
<line x1="197.35" y1="382.70" x2="201.55" y2="382.70" stroke="#222" stroke-width="0.9"/>
<line x1="212.70" y1="375.50" x2="212.70" y2="389.40" stroke="#222" stroke-width="0.9"/>
<line x1="210.60" y1="375.50" x2="214.80" y2="375.50" stroke="#222" stroke-width="0.9"/>
<line x1="173.15" y1="436.30" x2="173.15" y2="446.00" stroke="#222" stroke-width="0.9"/>
<line x1="171.05" y1="436.30" x2="175.25" y2="436.30" stroke="#222" stroke-width="0.9"/>
<line x1="173.15" y1="464.50" x2="173.15" y2="472.00" stroke="#222" stroke-width="0.9"/>
<line x1="171.05" y1="464.50" x2="175.25" y2="464.50" stroke="#222" stroke-width="0.9"/>
<line x1="186.30" y1="428.00" x2="186.30" y2="445.60" stroke="#222" stroke-width="0.9"/>
<line x1="184.20" y1="428.00" x2="188.40" y2="428.00" stroke="#222" stroke-width="0.9"/>
<line x1="186.30" y1="462.60" x2="186.30" y2="475.00" stroke="#222" stroke-width="0.9"/>
<line x1="184.20" y1="462.60" x2="188.40" y2="462.60" stroke="#222" stroke-width="0.9"/>
<line x1="199.45" y1="450.00" x2="199.45" y2="460.60" stroke="#222" stroke-width="0.9"/>
<line x1="197.35" y1="450.00" x2="201.55" y2="450.00" stroke="#222" stroke-width="0.9"/>
<line x1="199.45" y1="470.00" x2="199.45" y2="477.60" stroke="#222" stroke-width="0.9"/>
<line x1="197.35" y1="470.00" x2="201.55" y2="470.00" stroke="#222" stroke-width="0.9"/>
<line x1="212.70" y1="418.30" x2="212.70" y2="433.00" stroke="#222" stroke-width="0.9"/>
<line x1="210.60" y1="418.30" x2="214.80" y2="418.30" stroke="#222" stroke-width="0.9"/>
<line x1="212.70" y1="441.10" x2="212.70" y2="455.80" stroke="#222" stroke-width="0.9"/>
<line x1="210.60" y1="441.10" x2="214.80" y2="441.10" stroke="#222" stroke-width="0.9"/>
<rect x="222.80" y="397.90" width="8.40" height="4.90" fill="#e0901c"/>
<rect x="222.80" y="413.30" width="8.40" height="4.90" fill="#9a90cd"/>
<rect x="222.80" y="435.60" width="8.40" height="4.90" fill="#4b1d6b"/>
<text x="234.00" y="401.80" font-size="6.2" fill="#1a1a1a" stroke="#1a1a1a" stroke-width="0.1" textLength="14.40" lengthAdjust="spacingAndGlyphs">Other</text>
<text x="234.00" y="408.70" font-size="6.2" fill="#1a1a1a" stroke="#1a1a1a" stroke-width="0.1" textLength="20.30" lengthAdjust="spacingAndGlyphs">(CD41–)</text>
<text x="234.00" y="417.20" font-size="6.2" fill="#1a1a1a" stroke="#1a1a1a" stroke-width="0.1" textLength="16.00" lengthAdjust="spacingAndGlyphs">Mixed</text>
<text x="234.00" y="424.00" font-size="6.2" fill="#1a1a1a" stroke="#1a1a1a" stroke-width="0.1" textLength="19.50" lengthAdjust="spacingAndGlyphs">(CD41+</text>
<text x="234.00" y="430.70" font-size="6.2" fill="#1a1a1a" stroke="#1a1a1a" stroke-width="0.1" textLength="22.30" lengthAdjust="spacingAndGlyphs">&amp;CD41–)</text>
<text x="234.00" y="439.80" font-size="6.2" fill="#1a1a1a" stroke="#1a1a1a" stroke-width="0.1" textLength="19.70" lengthAdjust="spacingAndGlyphs">Mk only</text>
<text x="234.00" y="446.50" font-size="6.2" fill="#1a1a1a" stroke="#1a1a1a" stroke-width="0.1" textLength="21.50" lengthAdjust="spacingAndGlyphs">(CD41+)</text>
<text x="179.80" y="483.80" font-size="6.6" fill="#1a1a1a" stroke="#1a1a1a" stroke-width="0.1" text-anchor="middle">ns</text>
<circle cx="204.90" cy="481.50" r="0.85" fill="#333"/>
<circle cx="207.50" cy="481.50" r="0.85" fill="#333"/>
<text x="173.00" y="490.60" font-size="6.4" fill="#1a1a1a" stroke="#1a1a1a" stroke-width="0.1" text-anchor="middle">lo</text>
<text x="186.30" y="490.60" font-size="6.4" fill="#1a1a1a" stroke="#1a1a1a" stroke-width="0.1" text-anchor="middle">hi</text>
<text x="199.50" y="490.60" font-size="6.4" fill="#1a1a1a" stroke="#1a1a1a" stroke-width="0.1" text-anchor="middle">lo</text>
<text x="213.00" y="490.60" font-size="6.4" fill="#1a1a1a" stroke="#1a1a1a" stroke-width="0.1" text-anchor="middle">hi</text>
<line x1="169.50" y1="495.60" x2="190.00" y2="495.60" stroke="#c9c9c9" stroke-width="0.8"/>
<line x1="195.80" y1="495.60" x2="216.30" y2="495.60" stroke="#5a60b0" stroke-width="0.8"/>
<text x="148.70" y="504.00" font-size="6.3" fill="#1a1a1a" stroke="#1a1a1a" stroke-width="0.1" font-style="italic" textLength="16.80" lengthAdjust="spacingAndGlyphs">JAK2:</text>
<text x="179.50" y="504.00" font-size="6.3" fill="#cfcfcf" stroke="#cfcfcf" stroke-width="0.1" text-anchor="middle" font-style="italic">WT</text>
<text x="206.30" y="504.00" font-size="6.3" fill="#4f58ad" stroke="#4f58ad" stroke-width="0.1" text-anchor="middle" font-style="italic">VF</text>
<text x="306.00" y="357.00" font-size="6.3" fill="#1a1a1a" stroke="#1a1a1a" stroke-width="0.1" textLength="28.50" lengthAdjust="spacingAndGlyphs">Numbers:</text>
<text x="282.50" y="367.50" font-size="6.3" fill="#1a1a1a" stroke="#1a1a1a" stroke-width="0.1" textLength="41.00" lengthAdjust="spacingAndGlyphs">cells: 384 180</text>
<text x="271.30" y="376.50" font-size="6.3" fill="#1a1a1a" stroke="#1a1a1a" stroke-width="0.1" textLength="50.00" lengthAdjust="spacingAndGlyphs">colonies: 134 &#160;42</text>
<text x="362.50" y="357.00" font-size="6.3" fill="#1a1a1a" stroke="#1a1a1a" stroke-width="0.1" textLength="37.50" lengthAdjust="spacingAndGlyphs">Percentages:</text>
<text x="362.50" y="367.50" font-size="6.3" fill="#1a1a1a" stroke="#1a1a1a" stroke-width="0.1" textLength="29.00" lengthAdjust="spacingAndGlyphs">genotypes</text>
<text x="362.50" y="375.00" font-size="6.3" fill="#1a1a1a" stroke="#1a1a1a" stroke-width="0.1" textLength="31.00" lengthAdjust="spacingAndGlyphs">of colonies</text>
<text x="350.00" y="382.00" font-size="6.3" fill="#1a1a1a" stroke="#1a1a1a" stroke-width="0.1">%</text>
<text x="447.00" y="369.20" font-size="6.5" fill="#1a1a1a" stroke="#1a1a1a" stroke-width="0.1" text-anchor="middle" textLength="36.00" lengthAdjust="spacingAndGlyphs">phenotypes</text>
<line x1="295.50" y1="389.00" x2="295.50" y2="478.90" stroke="#1a1a1a" stroke-width="1.2"/>
<line x1="294.90" y1="478.30" x2="324.50" y2="478.30" stroke="#1a1a1a" stroke-width="1.2"/>
<line x1="292.10" y1="389.50" x2="295.50" y2="389.50" stroke="#1a1a1a" stroke-width="1.0"/>
<text x="289.10" y="391.80" font-size="6.3" fill="#1a1a1a" stroke="#1a1a1a" stroke-width="0.1" text-anchor="end">400</text>
<line x1="293.50" y1="400.60" x2="295.50" y2="400.60" stroke="#1a1a1a" stroke-width="0.9"/>
<line x1="292.10" y1="411.70" x2="295.50" y2="411.70" stroke="#1a1a1a" stroke-width="1.0"/>
<text x="289.10" y="414.00" font-size="6.3" fill="#1a1a1a" stroke="#1a1a1a" stroke-width="0.1" text-anchor="end">300</text>
<line x1="293.50" y1="422.80" x2="295.50" y2="422.80" stroke="#1a1a1a" stroke-width="0.9"/>
<line x1="292.10" y1="433.90" x2="295.50" y2="433.90" stroke="#1a1a1a" stroke-width="1.0"/>
<text x="289.10" y="436.20" font-size="6.3" fill="#1a1a1a" stroke="#1a1a1a" stroke-width="0.1" text-anchor="end">200</text>
<line x1="293.50" y1="445.00" x2="295.50" y2="445.00" stroke="#1a1a1a" stroke-width="0.9"/>
<line x1="292.10" y1="456.10" x2="295.50" y2="456.10" stroke="#1a1a1a" stroke-width="1.0"/>
<text x="289.10" y="458.40" font-size="6.3" fill="#1a1a1a" stroke="#1a1a1a" stroke-width="0.1" text-anchor="end">100</text>
<line x1="293.50" y1="467.20" x2="295.50" y2="467.20" stroke="#1a1a1a" stroke-width="0.9"/>
<line x1="292.10" y1="478.30" x2="295.50" y2="478.30" stroke="#1a1a1a" stroke-width="1.0"/>
<text x="289.10" y="480.60" font-size="6.3" fill="#1a1a1a" stroke="#1a1a1a" stroke-width="0.1" text-anchor="end">0</text>
<rect x="300.50" y="465.00" width="8.75" height="13.30" fill="#c6c4c9"/>
<rect x="300.50" y="448.75" width="8.75" height="16.25" fill="#3e4a9c"/>
<rect x="300.50" y="393.50" width="8.00" height="84.80" fill="none" stroke="#1a1a1a" stroke-width="1.0"/>
<rect x="314.25" y="473.75" width="8.25" height="4.55" fill="#c6c4c9"/>
<rect x="314.25" y="468.25" width="8.25" height="5.50" fill="#3e4a9c"/>
<rect x="314.50" y="438.50" width="7.00" height="39.80" fill="none" stroke="#1a1a1a" stroke-width="1.0"/>
<line x1="309.25" y1="448.75" x2="345.00" y2="389.50" stroke="#555" stroke-width="0.8" stroke-dasharray="2.4,1.6"/>
<line x1="322.50" y1="468.20" x2="344.00" y2="391.00" stroke="#555" stroke-width="0.8" stroke-dasharray="2.4,1.6"/>
<text x="323.50" y="471.00" font-size="5.2" fill="#3e4a9c" stroke="#3e4a9c" stroke-width="0.1" font-style="italic">VF</text>
<text x="323.50" y="477.50" font-size="5.2" fill="#cfcfcf" stroke="#cfcfcf" stroke-width="0.1" font-style="italic">WT</text>
<text x="271.30" y="487.50" font-size="6.4" fill="#1a1a1a" stroke="#1a1a1a" stroke-width="0.1" textLength="18.30" lengthAdjust="spacingAndGlyphs">CD41:</text>
<text x="304.80" y="487.50" font-size="6.4" fill="#1a1a1a" stroke="#1a1a1a" stroke-width="0.1" text-anchor="middle">lo</text>
<text x="318.60" y="487.50" font-size="6.4" fill="#1a1a1a" stroke="#1a1a1a" stroke-width="0.1" text-anchor="middle">hi</text>
<line x1="362.40" y1="389.00" x2="362.40" y2="478.90" stroke="#1a1a1a" stroke-width="1.2"/>
<line x1="361.80" y1="478.30" x2="392.40" y2="478.30" stroke="#1a1a1a" stroke-width="1.2"/>
<line x1="359.00" y1="389.40" x2="362.40" y2="389.40" stroke="#1a1a1a" stroke-width="1.0"/>
<text x="356.40" y="391.70" font-size="6.3" fill="#1a1a1a" stroke="#1a1a1a" stroke-width="0.1" text-anchor="end">100</text>
<line x1="359.00" y1="407.18" x2="362.40" y2="407.18" stroke="#1a1a1a" stroke-width="1.0"/>
<text x="356.40" y="409.48" font-size="6.3" fill="#1a1a1a" stroke="#1a1a1a" stroke-width="0.1" text-anchor="end">80</text>
<line x1="359.00" y1="424.96" x2="362.40" y2="424.96" stroke="#1a1a1a" stroke-width="1.0"/>
<text x="356.40" y="427.26" font-size="6.3" fill="#1a1a1a" stroke="#1a1a1a" stroke-width="0.1" text-anchor="end">60</text>
<line x1="359.00" y1="442.74" x2="362.40" y2="442.74" stroke="#1a1a1a" stroke-width="1.0"/>
<text x="356.40" y="445.04" font-size="6.3" fill="#1a1a1a" stroke="#1a1a1a" stroke-width="0.1" text-anchor="end">40</text>
<line x1="359.00" y1="460.52" x2="362.40" y2="460.52" stroke="#1a1a1a" stroke-width="1.0"/>
<text x="356.40" y="462.82" font-size="6.3" fill="#1a1a1a" stroke="#1a1a1a" stroke-width="0.1" text-anchor="end">20</text>
<line x1="359.00" y1="478.30" x2="362.40" y2="478.30" stroke="#1a1a1a" stroke-width="1.0"/>
<text x="356.40" y="480.60" font-size="6.3" fill="#1a1a1a" stroke="#1a1a1a" stroke-width="0.1" text-anchor="end">0</text>
<rect x="367.50" y="389.40" width="8.25" height="48.10" fill="#3e4a9c"/>
<rect x="367.50" y="437.50" width="8.25" height="40.80" fill="#c6c4c9"/>
<rect x="381.25" y="389.40" width="8.25" height="47.40" fill="#3e4a9c"/>
<rect x="381.25" y="436.80" width="8.25" height="41.50" fill="#c6c4c9"/>
<text x="392.20" y="419.60" font-size="5.6" fill="#3e4a9c" stroke="#3e4a9c" stroke-width="0.1" font-style="italic">VF</text>
<text x="392.20" y="458.00" font-size="5.6" fill="#cfcfcf" stroke="#cfcfcf" stroke-width="0.1" font-style="italic">WT</text>
<text x="337.50" y="487.50" font-size="6.4" fill="#1a1a1a" stroke="#1a1a1a" stroke-width="0.1" textLength="18.30" lengthAdjust="spacingAndGlyphs">CD41:</text>
<text x="371.30" y="487.50" font-size="6.4" fill="#1a1a1a" stroke="#1a1a1a" stroke-width="0.1" text-anchor="middle">lo</text>
<text x="385.50" y="487.50" font-size="6.4" fill="#1a1a1a" stroke="#1a1a1a" stroke-width="0.1" text-anchor="middle">hi</text>
<line x1="419.50" y1="478.30" x2="474.50" y2="478.30" stroke="#1a1a1a" stroke-width="1.2"/>
<rect x="423.75" y="389.40" width="8.75" height="77.35" fill="#e0901c"/>
<rect x="423.75" y="466.75" width="8.75" height="6.25" fill="#9a90cd"/>
<rect x="423.75" y="473.00" width="8.75" height="5.30" fill="#4b1d6b"/>
<rect x="437.00" y="389.40" width="8.50" height="8.60" fill="#e0901c"/>
<rect x="437.00" y="398.00" width="8.50" height="8.75" fill="#9a90cd"/>
<rect x="437.00" y="406.75" width="8.50" height="71.55" fill="#4b1d6b"/>
<rect x="450.00" y="389.40" width="8.75" height="71.10" fill="#e0901c"/>
<rect x="450.00" y="460.50" width="8.75" height="14.50" fill="#9a90cd"/>
<rect x="450.00" y="475.00" width="8.75" height="3.30" fill="#4b1d6b"/>
<rect x="463.25" y="389.40" width="8.50" height="22.35" fill="#e0901c"/>
<rect x="463.25" y="411.75" width="8.50" height="19.00" fill="#9a90cd"/>
<rect x="463.25" y="430.75" width="8.50" height="47.55" fill="#4b1d6b"/>
<line x1="428.10" y1="383.75" x2="428.10" y2="389.40" stroke="#222" stroke-width="0.9"/>
<line x1="426.00" y1="383.75" x2="430.20" y2="383.75" stroke="#222" stroke-width="0.9"/>
<line x1="441.25" y1="372.00" x2="441.25" y2="389.40" stroke="#222" stroke-width="0.9"/>
<line x1="439.15" y1="372.00" x2="443.35" y2="372.00" stroke="#222" stroke-width="0.9"/>
<line x1="454.40" y1="382.50" x2="454.40" y2="389.40" stroke="#222" stroke-width="0.9"/>
<line x1="452.30" y1="382.50" x2="456.50" y2="382.50" stroke="#222" stroke-width="0.9"/>
<line x1="467.50" y1="371.75" x2="467.50" y2="389.40" stroke="#222" stroke-width="0.9"/>
<line x1="465.40" y1="371.75" x2="469.60" y2="371.75" stroke="#222" stroke-width="0.9"/>
<line x1="428.10" y1="458.75" x2="428.10" y2="473.00" stroke="#222" stroke-width="0.9"/>
<line x1="426.00" y1="458.75" x2="430.20" y2="458.75" stroke="#222" stroke-width="0.9"/>
<line x1="441.25" y1="380.50" x2="441.25" y2="406.75" stroke="#222" stroke-width="0.9"/>
<line x1="439.15" y1="380.50" x2="443.35" y2="380.50" stroke="#222" stroke-width="0.9"/>
<line x1="441.25" y1="395.75" x2="441.25" y2="406.75" stroke="#222" stroke-width="0.9"/>
<line x1="439.15" y1="395.75" x2="443.35" y2="395.75" stroke="#222" stroke-width="0.9"/>
<line x1="454.40" y1="451.75" x2="454.40" y2="460.50" stroke="#222" stroke-width="0.9"/>
<line x1="452.30" y1="451.75" x2="456.50" y2="451.75" stroke="#222" stroke-width="0.9"/>
<line x1="454.40" y1="468.25" x2="454.40" y2="475.00" stroke="#222" stroke-width="0.9"/>
<line x1="452.30" y1="468.25" x2="456.50" y2="468.25" stroke="#222" stroke-width="0.9"/>
<line x1="467.50" y1="394.25" x2="467.50" y2="411.75" stroke="#222" stroke-width="0.9"/>
<line x1="465.40" y1="394.25" x2="469.60" y2="394.25" stroke="#222" stroke-width="0.9"/>
<line x1="467.50" y1="414.50" x2="467.50" y2="430.75" stroke="#222" stroke-width="0.9"/>
<line x1="465.40" y1="414.50" x2="469.60" y2="414.50" stroke="#222" stroke-width="0.9"/>
<rect x="478.00" y="397.90" width="8.40" height="4.90" fill="#e0901c"/>
<rect x="478.00" y="413.30" width="8.40" height="4.90" fill="#9a90cd"/>
<rect x="478.00" y="435.60" width="8.40" height="4.90" fill="#4b1d6b"/>
<text x="489.20" y="401.80" font-size="6.2" fill="#1a1a1a" stroke="#1a1a1a" stroke-width="0.1" textLength="14.40" lengthAdjust="spacingAndGlyphs">Other</text>
<text x="489.20" y="408.70" font-size="6.2" fill="#1a1a1a" stroke="#1a1a1a" stroke-width="0.1" textLength="20.30" lengthAdjust="spacingAndGlyphs">(CD41–)</text>
<text x="489.20" y="417.20" font-size="6.2" fill="#1a1a1a" stroke="#1a1a1a" stroke-width="0.1" textLength="16.00" lengthAdjust="spacingAndGlyphs">Mixed</text>
<text x="489.20" y="424.00" font-size="6.2" fill="#1a1a1a" stroke="#1a1a1a" stroke-width="0.1" textLength="19.50" lengthAdjust="spacingAndGlyphs">(CD41+</text>
<text x="489.20" y="430.70" font-size="6.2" fill="#1a1a1a" stroke="#1a1a1a" stroke-width="0.1" textLength="22.30" lengthAdjust="spacingAndGlyphs">&amp;CD41–)</text>
<text x="489.20" y="439.80" font-size="6.2" fill="#1a1a1a" stroke="#1a1a1a" stroke-width="0.1" textLength="19.70" lengthAdjust="spacingAndGlyphs">Mk only</text>
<text x="489.20" y="446.50" font-size="6.2" fill="#1a1a1a" stroke="#1a1a1a" stroke-width="0.1" textLength="21.50" lengthAdjust="spacingAndGlyphs">(CD41+)</text>
<circle cx="432.00" cy="481.50" r="0.85" fill="#333"/>
<circle cx="434.50" cy="481.50" r="0.85" fill="#333"/>
<circle cx="437.00" cy="481.50" r="0.85" fill="#333"/>
<circle cx="458.75" cy="481.50" r="0.85" fill="#333"/>
<circle cx="461.25" cy="481.50" r="0.85" fill="#333"/>
<circle cx="463.75" cy="481.50" r="0.85" fill="#333"/>
<text x="428.00" y="490.60" font-size="6.4" fill="#1a1a1a" stroke="#1a1a1a" stroke-width="0.1" text-anchor="middle">lo</text>
<text x="441.30" y="490.60" font-size="6.4" fill="#1a1a1a" stroke="#1a1a1a" stroke-width="0.1" text-anchor="middle">hi</text>
<text x="454.50" y="490.60" font-size="6.4" fill="#1a1a1a" stroke="#1a1a1a" stroke-width="0.1" text-anchor="middle">lo</text>
<text x="467.50" y="490.60" font-size="6.4" fill="#1a1a1a" stroke="#1a1a1a" stroke-width="0.1" text-anchor="middle">hi</text>
<line x1="424.30" y1="495.60" x2="445.00" y2="495.60" stroke="#c9c9c9" stroke-width="0.8"/>
<line x1="450.80" y1="495.60" x2="471.30" y2="495.60" stroke="#5a60b0" stroke-width="0.8"/>
<text x="403.70" y="504.00" font-size="6.3" fill="#1a1a1a" stroke="#1a1a1a" stroke-width="0.1" font-style="italic" textLength="16.80" lengthAdjust="spacingAndGlyphs">JAK2:</text>
<text x="434.50" y="504.00" font-size="6.3" fill="#cfcfcf" stroke="#cfcfcf" stroke-width="0.1" text-anchor="middle" font-style="italic">WT</text>
<text x="461.30" y="504.00" font-size="6.3" fill="#4f58ad" stroke="#4f58ad" stroke-width="0.1" text-anchor="middle" font-style="italic">VF</text>
</svg></body></html>
